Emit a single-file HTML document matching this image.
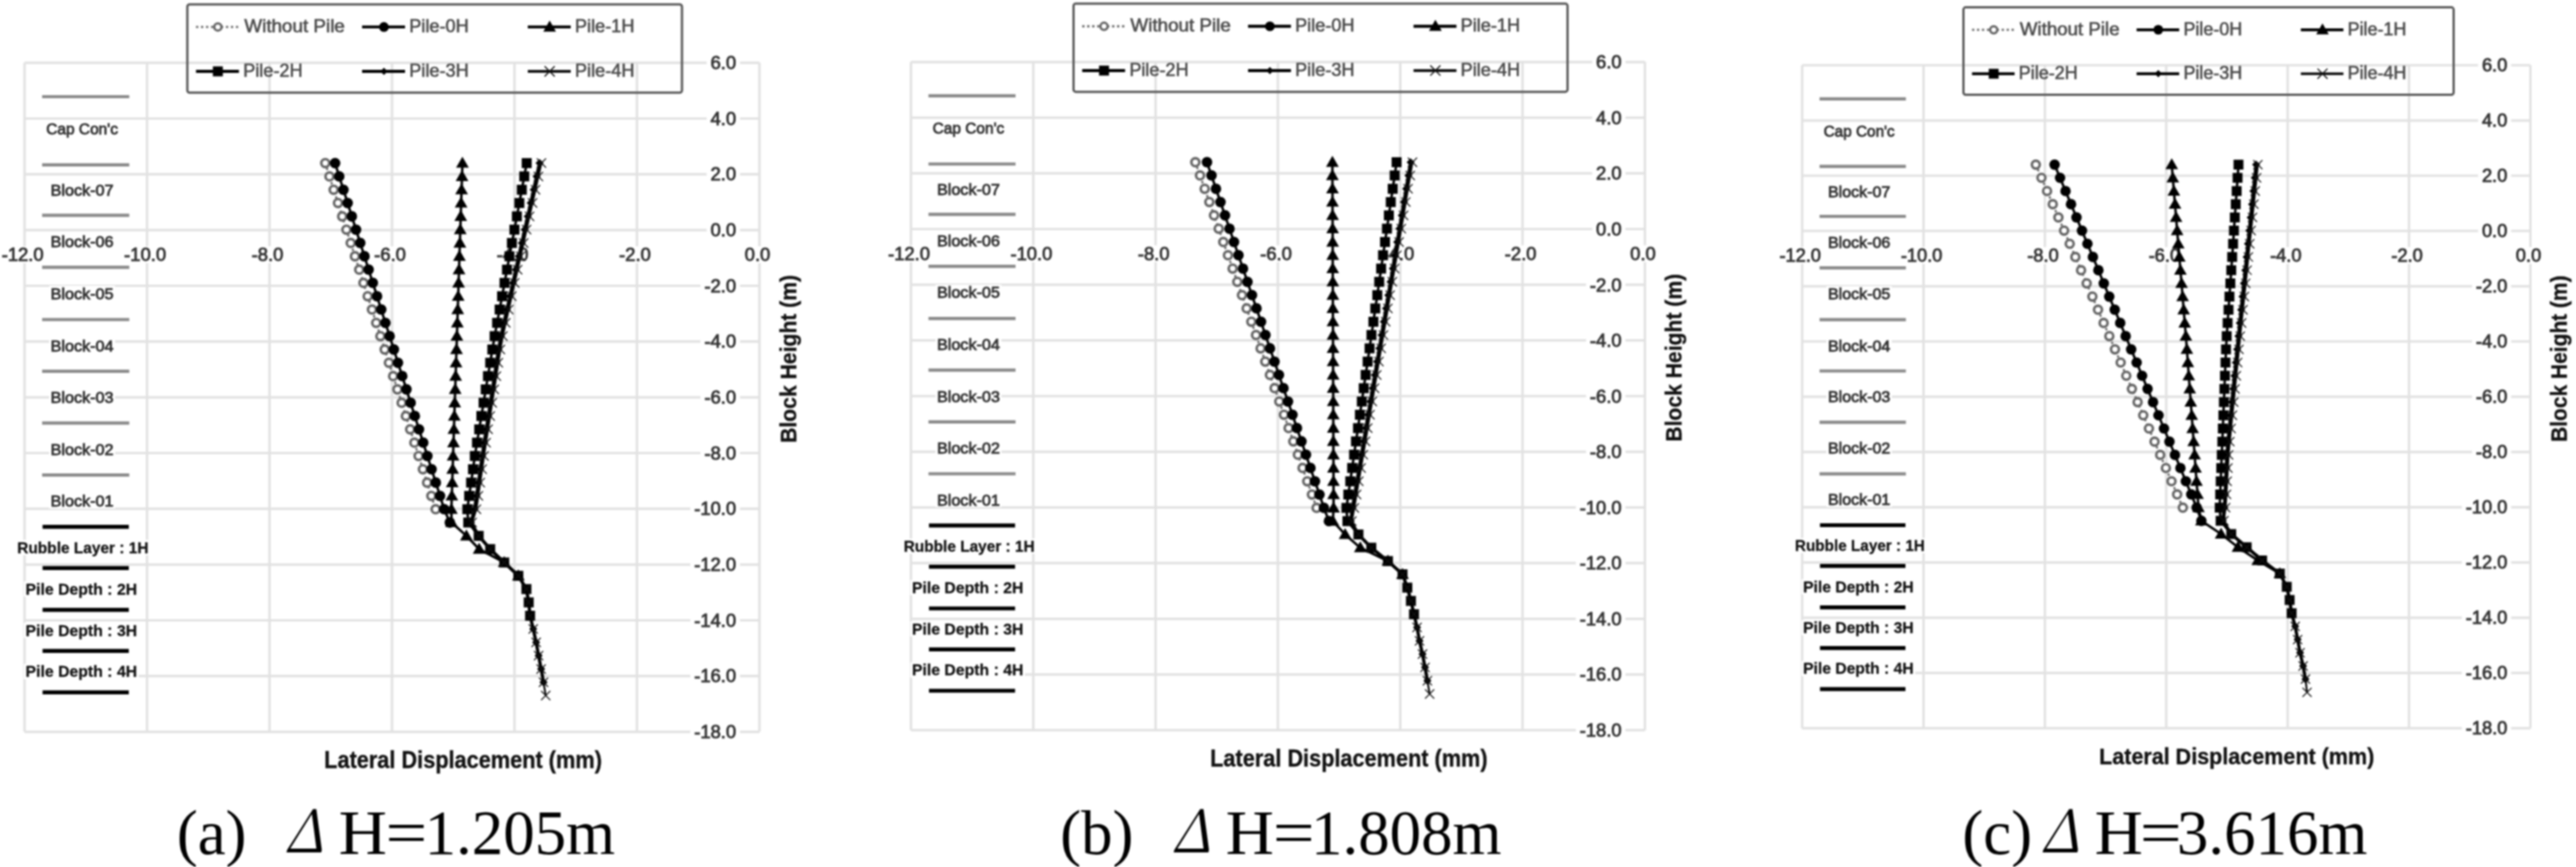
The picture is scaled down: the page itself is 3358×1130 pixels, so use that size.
<!DOCTYPE html><html><head><meta charset="utf-8"><title>Lateral displacement charts</title><style>html,body{margin:0;padding:0;background:#fff;}svg{display:block;}</style></head><body>
<svg style="filter:blur(1.2px)" width="3358" height="1130" viewBox="0 0 3358 1130">
<rect width="3358" height="1130" fill="#fff"/>
<g>
<g transform="translate(32.00,81.80) scale(1.0000)">
<path d="M0.0 0V872.0M159.7 0V872.0M319.3 0V872.0M479.0 0V872.0M638.7 0V872.0M798.3 0V872.0M958.0 0V872.0M0 0.0H958.0M0 72.7H958.0M0 145.3H958.0M0 218.0H958.0M0 290.7H958.0M0 363.3H958.0M0 436.0H958.0M0 508.7H958.0M0 581.3H958.0M0 654.0H958.0M0 726.7H958.0M0 799.3H958.0M0 872.0H958.0" stroke="#e2e2e2" stroke-width="3.2" fill="none"/>
<path d="M22.9 44.2H136.5M22.9 133.1H136.5M22.9 198.8H136.5M22.9 266.6H136.5M22.9 334.7H136.5M22.9 402.1H136.5M22.9 469.6H136.5M22.9 537.4H136.5" stroke="#8a8a8a" stroke-width="4.2" fill="none"/>
<path d="M23.5 604.9H135.9M23.5 658.6H135.9M23.5 713.1H135.9M23.5 766.5H135.9M23.5 820.5H135.9" stroke="#000" stroke-width="5.2" fill="none"/>
<rect x="26.2" y="78.7" width="97.5" height="20" fill="#fff"/>
<text x="75" y="93.7" text-anchor="middle" font-size="21" fill="#333" stroke="#333" stroke-width="1.0" textLength="93.5" lengthAdjust="spacingAndGlyphs" font-family="Liberation Sans, Arial, sans-serif">Cap Con&#39;c</text>
<rect x="32.0" y="155.9" width="86.0" height="20" fill="#fff"/>
<text x="75" y="173.4" text-anchor="middle" font-size="21" fill="#333" stroke="#333" stroke-width="1.0" textLength="82.0" lengthAdjust="spacingAndGlyphs" font-family="Liberation Sans, Arial, sans-serif">Block-07</text>
<rect x="32.0" y="222.7" width="86.0" height="20" fill="#fff"/>
<text x="75" y="240.2" text-anchor="middle" font-size="21" fill="#333" stroke="#333" stroke-width="1.0" textLength="82.0" lengthAdjust="spacingAndGlyphs" font-family="Liberation Sans, Arial, sans-serif">Block-06</text>
<rect x="32.0" y="290.6" width="86.0" height="20" fill="#fff"/>
<text x="75" y="308.1" text-anchor="middle" font-size="21" fill="#333" stroke="#333" stroke-width="1.0" textLength="82.0" lengthAdjust="spacingAndGlyphs" font-family="Liberation Sans, Arial, sans-serif">Block-05</text>
<rect x="32.0" y="358.4" width="86.0" height="20" fill="#fff"/>
<text x="75" y="375.9" text-anchor="middle" font-size="21" fill="#333" stroke="#333" stroke-width="1.0" textLength="82.0" lengthAdjust="spacingAndGlyphs" font-family="Liberation Sans, Arial, sans-serif">Block-04</text>
<rect x="32.0" y="425.9" width="86.0" height="20" fill="#fff"/>
<text x="75" y="443.4" text-anchor="middle" font-size="21" fill="#333" stroke="#333" stroke-width="1.0" textLength="82.0" lengthAdjust="spacingAndGlyphs" font-family="Liberation Sans, Arial, sans-serif">Block-03</text>
<rect x="32.0" y="493.5" width="86.0" height="20" fill="#fff"/>
<text x="75" y="511.0" text-anchor="middle" font-size="21" fill="#333" stroke="#333" stroke-width="1.0" textLength="82.0" lengthAdjust="spacingAndGlyphs" font-family="Liberation Sans, Arial, sans-serif">Block-02</text>
<rect x="32.0" y="561.1" width="86.0" height="20" fill="#fff"/>
<text x="75" y="578.6" text-anchor="middle" font-size="21" fill="#333" stroke="#333" stroke-width="1.0" textLength="82.0" lengthAdjust="spacingAndGlyphs" font-family="Liberation Sans, Arial, sans-serif">Block-01</text>
<rect x="-11.5" y="621.8" width="175.0" height="20" fill="#fff"/>
<text x="76.0" y="639.0" text-anchor="middle" font-size="20" font-weight="bold" fill="#111" stroke="#111" stroke-width="0.3" textLength="171.0" lengthAdjust="spacingAndGlyphs" font-family="Liberation Sans, Arial, sans-serif">Rubble Layer : 1H</text>
<rect x="-0.8" y="675.9" width="149.5" height="20" fill="#fff"/>
<text x="74.0" y="693.1" text-anchor="middle" font-size="20" font-weight="bold" fill="#111" stroke="#111" stroke-width="0.3" textLength="145.5" lengthAdjust="spacingAndGlyphs" font-family="Liberation Sans, Arial, sans-serif">Pile Depth : 2H</text>
<rect x="-0.8" y="729.8" width="149.5" height="20" fill="#fff"/>
<text x="74.0" y="747.0" text-anchor="middle" font-size="20" font-weight="bold" fill="#111" stroke="#111" stroke-width="0.3" textLength="145.5" lengthAdjust="spacingAndGlyphs" font-family="Liberation Sans, Arial, sans-serif">Pile Depth : 3H</text>
<rect x="-0.8" y="783.5" width="149.5" height="20" fill="#fff"/>
<text x="74.0" y="800.7" text-anchor="middle" font-size="20" font-weight="bold" fill="#111" stroke="#111" stroke-width="0.3" textLength="145.5" lengthAdjust="spacingAndGlyphs" font-family="Liberation Sans, Arial, sans-serif">Pile Depth : 4H</text>
<rect x="889.2" y="-11.0" width="43.4" height="22" fill="#fff"/>
<text x="927.6" y="8.4" text-anchor="end" font-size="24" fill="#333" stroke="#333" stroke-width="1.0" font-family="Liberation Sans, Arial, sans-serif">6.0</text>
<rect x="889.2" y="61.7" width="43.4" height="22" fill="#fff"/>
<text x="927.6" y="81.1" text-anchor="end" font-size="24" fill="#333" stroke="#333" stroke-width="1.0" font-family="Liberation Sans, Arial, sans-serif">4.0</text>
<rect x="889.2" y="134.3" width="43.4" height="22" fill="#fff"/>
<text x="927.6" y="153.7" text-anchor="end" font-size="24" fill="#333" stroke="#333" stroke-width="1.0" font-family="Liberation Sans, Arial, sans-serif">2.0</text>
<rect x="889.2" y="207.0" width="43.4" height="22" fill="#fff"/>
<text x="927.6" y="226.4" text-anchor="end" font-size="24" fill="#333" stroke="#333" stroke-width="1.0" font-family="Liberation Sans, Arial, sans-serif">0.0</text>
<rect x="881.2" y="279.7" width="51.4" height="22" fill="#fff"/>
<text x="927.6" y="299.1" text-anchor="end" font-size="24" fill="#333" stroke="#333" stroke-width="1.0" font-family="Liberation Sans, Arial, sans-serif">-2.0</text>
<rect x="881.2" y="352.3" width="51.4" height="22" fill="#fff"/>
<text x="927.6" y="371.7" text-anchor="end" font-size="24" fill="#333" stroke="#333" stroke-width="1.0" font-family="Liberation Sans, Arial, sans-serif">-4.0</text>
<rect x="881.2" y="425.0" width="51.4" height="22" fill="#fff"/>
<text x="927.6" y="444.4" text-anchor="end" font-size="24" fill="#333" stroke="#333" stroke-width="1.0" font-family="Liberation Sans, Arial, sans-serif">-6.0</text>
<rect x="881.2" y="497.7" width="51.4" height="22" fill="#fff"/>
<text x="927.6" y="517.1" text-anchor="end" font-size="24" fill="#333" stroke="#333" stroke-width="1.0" font-family="Liberation Sans, Arial, sans-serif">-8.0</text>
<rect x="867.9" y="570.3" width="64.7" height="22" fill="#fff"/>
<text x="927.6" y="589.7" text-anchor="end" font-size="24" fill="#333" stroke="#333" stroke-width="1.0" font-family="Liberation Sans, Arial, sans-serif">-10.0</text>
<rect x="867.9" y="643.0" width="64.7" height="22" fill="#fff"/>
<text x="927.6" y="662.4" text-anchor="end" font-size="24" fill="#333" stroke="#333" stroke-width="1.0" font-family="Liberation Sans, Arial, sans-serif">-12.0</text>
<rect x="867.9" y="715.7" width="64.7" height="22" fill="#fff"/>
<text x="927.6" y="735.1" text-anchor="end" font-size="24" fill="#333" stroke="#333" stroke-width="1.0" font-family="Liberation Sans, Arial, sans-serif">-14.0</text>
<rect x="867.9" y="788.3" width="64.7" height="22" fill="#fff"/>
<text x="927.6" y="807.7" text-anchor="end" font-size="24" fill="#333" stroke="#333" stroke-width="1.0" font-family="Liberation Sans, Arial, sans-serif">-16.0</text>
<rect x="867.9" y="861.0" width="64.7" height="22" fill="#fff"/>
<text x="927.6" y="880.4" text-anchor="end" font-size="24" fill="#333" stroke="#333" stroke-width="1.0" font-family="Liberation Sans, Arial, sans-serif">-18.0</text>
<rect x="-32.9" y="239.2" width="60.7" height="22" fill="#fff"/>
<text x="-2.5" y="258.6" text-anchor="middle" font-size="24" fill="#333" stroke="#333" stroke-width="1.0" font-family="Liberation Sans, Arial, sans-serif">-12.0</text>
<rect x="126.8" y="239.2" width="60.7" height="22" fill="#fff"/>
<text x="157.2" y="258.6" text-anchor="middle" font-size="24" fill="#333" stroke="#333" stroke-width="1.0" font-family="Liberation Sans, Arial, sans-serif">-10.0</text>
<rect x="293.1" y="239.2" width="47.4" height="22" fill="#fff"/>
<text x="316.8" y="258.6" text-anchor="middle" font-size="24" fill="#333" stroke="#333" stroke-width="1.0" font-family="Liberation Sans, Arial, sans-serif">-8.0</text>
<rect x="452.8" y="239.2" width="47.4" height="22" fill="#fff"/>
<text x="476.5" y="258.6" text-anchor="middle" font-size="24" fill="#333" stroke="#333" stroke-width="1.0" font-family="Liberation Sans, Arial, sans-serif">-6.0</text>
<rect x="612.5" y="239.2" width="47.4" height="22" fill="#fff"/>
<text x="636.2" y="258.6" text-anchor="middle" font-size="24" fill="#333" stroke="#333" stroke-width="1.0" font-family="Liberation Sans, Arial, sans-serif">-4.0</text>
<rect x="772.1" y="239.2" width="47.4" height="22" fill="#fff"/>
<text x="795.8" y="258.6" text-anchor="middle" font-size="24" fill="#333" stroke="#333" stroke-width="1.0" font-family="Liberation Sans, Arial, sans-serif">-2.0</text>
<rect x="935.8" y="239.2" width="39.4" height="22" fill="#fff"/>
<text x="955.5" y="258.6" text-anchor="middle" font-size="24" fill="#333" stroke="#333" stroke-width="1.0" font-family="Liberation Sans, Arial, sans-serif">0.0</text>
<text x="390.6" y="919.1" font-size="30.5" font-weight="bold" fill="#111" stroke="#111" stroke-width="0.4" textLength="362" lengthAdjust="spacingAndGlyphs" font-family="Liberation Sans, Arial, sans-serif">Lateral Displacement (mm)</text>
<text transform="translate(1006,495.5) rotate(-90)" x="0" y="0" font-size="29.5" font-weight="bold" fill="#111" stroke="#111" stroke-width="0.4" textLength="219" lengthAdjust="spacingAndGlyphs" font-family="Liberation Sans, Arial, sans-serif">Block Height (m)</text>
<polyline points="392.0,130.8 397.5,148.1 403.0,165.5 408.6,182.8 414.1,200.2 419.6,217.5 425.2,234.9 430.7,252.2 436.3,269.6 441.8,286.9 447.3,304.3 452.9,321.6 458.4,339.0 463.9,356.3 469.5,373.7 475.0,391.0 480.5,408.4 486.1,425.7 491.6,443.1 497.1,460.4 502.7,477.8 508.2,495.1 513.7,512.5 519.3,529.8 524.8,547.2 530.3,564.5 535.9,581.9" fill="none" stroke="#6a6a6a" stroke-width="2.8" stroke-dasharray="3,3.5"/>
<circle cx="392.0" cy="130.8" r="5.2" fill="#fff" stroke="#666" stroke-width="3.4"/><circle cx="397.5" cy="148.1" r="5.2" fill="#fff" stroke="#666" stroke-width="3.4"/><circle cx="403.0" cy="165.5" r="5.2" fill="#fff" stroke="#666" stroke-width="3.4"/><circle cx="408.6" cy="182.8" r="5.2" fill="#fff" stroke="#666" stroke-width="3.4"/><circle cx="414.1" cy="200.2" r="5.2" fill="#fff" stroke="#666" stroke-width="3.4"/><circle cx="419.6" cy="217.5" r="5.2" fill="#fff" stroke="#666" stroke-width="3.4"/><circle cx="425.2" cy="234.9" r="5.2" fill="#fff" stroke="#666" stroke-width="3.4"/><circle cx="430.7" cy="252.2" r="5.2" fill="#fff" stroke="#666" stroke-width="3.4"/><circle cx="436.3" cy="269.6" r="5.2" fill="#fff" stroke="#666" stroke-width="3.4"/><circle cx="441.8" cy="286.9" r="5.2" fill="#fff" stroke="#666" stroke-width="3.4"/><circle cx="447.3" cy="304.3" r="5.2" fill="#fff" stroke="#666" stroke-width="3.4"/><circle cx="452.9" cy="321.6" r="5.2" fill="#fff" stroke="#666" stroke-width="3.4"/><circle cx="458.4" cy="339.0" r="5.2" fill="#fff" stroke="#666" stroke-width="3.4"/><circle cx="463.9" cy="356.3" r="5.2" fill="#fff" stroke="#666" stroke-width="3.4"/><circle cx="469.5" cy="373.7" r="5.2" fill="#fff" stroke="#666" stroke-width="3.4"/><circle cx="475.0" cy="391.0" r="5.2" fill="#fff" stroke="#666" stroke-width="3.4"/><circle cx="480.5" cy="408.4" r="5.2" fill="#fff" stroke="#666" stroke-width="3.4"/><circle cx="486.1" cy="425.7" r="5.2" fill="#fff" stroke="#666" stroke-width="3.4"/><circle cx="491.6" cy="443.1" r="5.2" fill="#fff" stroke="#666" stroke-width="3.4"/><circle cx="497.1" cy="460.4" r="5.2" fill="#fff" stroke="#666" stroke-width="3.4"/><circle cx="502.7" cy="477.8" r="5.2" fill="#fff" stroke="#666" stroke-width="3.4"/><circle cx="508.2" cy="495.1" r="5.2" fill="#fff" stroke="#666" stroke-width="3.4"/><circle cx="513.7" cy="512.5" r="5.2" fill="#fff" stroke="#666" stroke-width="3.4"/><circle cx="519.3" cy="529.8" r="5.2" fill="#fff" stroke="#666" stroke-width="3.4"/><circle cx="524.8" cy="547.2" r="5.2" fill="#fff" stroke="#666" stroke-width="3.4"/><circle cx="530.3" cy="564.5" r="5.2" fill="#fff" stroke="#666" stroke-width="3.4"/><circle cx="535.9" cy="581.9" r="5.2" fill="#fff" stroke="#666" stroke-width="3.4"/>
<polyline points="404.8,130.8 410.2,148.1 415.7,165.5 421.2,182.8 426.6,200.2 432.1,217.5 437.6,234.9 443.1,252.2 448.5,269.6 454.0,286.9 459.5,304.3 464.9,321.6 470.4,339.0 475.9,356.3 481.4,373.7 486.8,391.0 492.3,408.4 497.8,425.7 503.3,443.1 508.7,460.4 514.2,477.8 519.7,495.1 525.1,512.5 530.6,529.8 536.1,547.2 541.6,564.5 547.0,581.9 554.4,599.2" fill="none" stroke="#000" stroke-width="3.2"/>
<circle cx="404.8" cy="130.8" r="6.9" fill="#000"/><circle cx="410.2" cy="148.1" r="6.9" fill="#000"/><circle cx="415.7" cy="165.5" r="6.9" fill="#000"/><circle cx="421.2" cy="182.8" r="6.9" fill="#000"/><circle cx="426.6" cy="200.2" r="6.9" fill="#000"/><circle cx="432.1" cy="217.5" r="6.9" fill="#000"/><circle cx="437.6" cy="234.9" r="6.9" fill="#000"/><circle cx="443.1" cy="252.2" r="6.9" fill="#000"/><circle cx="448.5" cy="269.6" r="6.9" fill="#000"/><circle cx="454.0" cy="286.9" r="6.9" fill="#000"/><circle cx="459.5" cy="304.3" r="6.9" fill="#000"/><circle cx="464.9" cy="321.6" r="6.9" fill="#000"/><circle cx="470.4" cy="339.0" r="6.9" fill="#000"/><circle cx="475.9" cy="356.3" r="6.9" fill="#000"/><circle cx="481.4" cy="373.7" r="6.9" fill="#000"/><circle cx="486.8" cy="391.0" r="6.9" fill="#000"/><circle cx="492.3" cy="408.4" r="6.9" fill="#000"/><circle cx="497.8" cy="425.7" r="6.9" fill="#000"/><circle cx="503.3" cy="443.1" r="6.9" fill="#000"/><circle cx="508.7" cy="460.4" r="6.9" fill="#000"/><circle cx="514.2" cy="477.8" r="6.9" fill="#000"/><circle cx="519.7" cy="495.1" r="6.9" fill="#000"/><circle cx="525.1" cy="512.5" r="6.9" fill="#000"/><circle cx="530.6" cy="529.8" r="6.9" fill="#000"/><circle cx="536.1" cy="547.2" r="6.9" fill="#000"/><circle cx="541.6" cy="564.5" r="6.9" fill="#000"/><circle cx="547.0" cy="581.9" r="6.9" fill="#000"/><circle cx="554.4" cy="599.2" r="6.9" fill="#000"/>
<polyline points="570.8,130.8 570.3,148.1 569.7,165.5 569.1,182.8 568.6,200.2 568.0,217.5 567.5,234.9 566.9,252.2 566.4,269.6 565.8,286.9 565.3,304.3 564.7,321.6 564.2,339.0 563.6,356.3 563.1,373.7 562.5,391.0 562.0,408.4 561.4,425.7 560.8,443.1 560.3,460.4 559.7,477.8 559.2,495.1 558.6,512.5 558.1,529.8 557.5,547.2 557.0,564.5 556.4,581.9 556.6,599.2 576.0,616.6 592.6,633.9 625.3,651.3 643.7,668.6" fill="none" stroke="#000" stroke-width="3.2"/>
<path d="M570.8 122.4l8.3 14.4h-16.6z" fill="#000"/><path d="M570.3 139.7l8.3 14.4h-16.6z" fill="#000"/><path d="M569.7 157.1l8.3 14.4h-16.6z" fill="#000"/><path d="M569.1 174.4l8.3 14.4h-16.6z" fill="#000"/><path d="M568.6 191.8l8.3 14.4h-16.6z" fill="#000"/><path d="M568.0 209.1l8.3 14.4h-16.6z" fill="#000"/><path d="M567.5 226.5l8.3 14.4h-16.6z" fill="#000"/><path d="M566.9 243.8l8.3 14.4h-16.6z" fill="#000"/><path d="M566.4 261.2l8.3 14.4h-16.6z" fill="#000"/><path d="M565.8 278.5l8.3 14.4h-16.6z" fill="#000"/><path d="M565.3 295.9l8.3 14.4h-16.6z" fill="#000"/><path d="M564.7 313.2l8.3 14.4h-16.6z" fill="#000"/><path d="M564.2 330.6l8.3 14.4h-16.6z" fill="#000"/><path d="M563.6 347.9l8.3 14.4h-16.6z" fill="#000"/><path d="M563.1 365.3l8.3 14.4h-16.6z" fill="#000"/><path d="M562.5 382.6l8.3 14.4h-16.6z" fill="#000"/><path d="M562.0 400.0l8.3 14.4h-16.6z" fill="#000"/><path d="M561.4 417.3l8.3 14.4h-16.6z" fill="#000"/><path d="M560.8 434.7l8.3 14.4h-16.6z" fill="#000"/><path d="M560.3 452.0l8.3 14.4h-16.6z" fill="#000"/><path d="M559.7 469.4l8.3 14.4h-16.6z" fill="#000"/><path d="M559.2 486.7l8.3 14.4h-16.6z" fill="#000"/><path d="M558.6 504.1l8.3 14.4h-16.6z" fill="#000"/><path d="M558.1 521.4l8.3 14.4h-16.6z" fill="#000"/><path d="M557.5 538.8l8.3 14.4h-16.6z" fill="#000"/><path d="M557.0 556.1l8.3 14.4h-16.6z" fill="#000"/><path d="M556.4 573.5l8.3 14.4h-16.6z" fill="#000"/><path d="M556.6 590.8l8.3 14.4h-16.6z" fill="#000"/><path d="M576.0 608.2l8.3 14.4h-16.6z" fill="#000"/><path d="M592.6 625.5l8.3 14.4h-16.6z" fill="#000"/><path d="M625.3 642.9l8.3 14.4h-16.6z" fill="#000"/><path d="M643.7 660.2l8.3 14.4h-16.6z" fill="#000"/>
<polyline points="654.6,130.8 651.4,148.1 648.2,165.5 645.0,182.8 641.8,200.2 638.6,217.5 635.3,234.9 632.1,252.2 628.9,269.6 625.7,286.9 622.5,304.3 619.3,321.6 616.0,339.0 612.8,356.3 609.8,373.7 607.0,391.0 604.1,408.4 601.2,425.7 598.4,443.1 595.5,460.4 592.7,477.8 589.8,495.1 587.0,512.5 584.6,529.8 582.1,547.2 579.6,564.5 577.2,581.9 578.4,599.2 592.0,616.6 607.0,633.9 625.3,651.3 643.7,668.6 654.2,686.0 657.2,703.3 659.0,720.7" fill="none" stroke="#000" stroke-width="3.2"/>
<rect x="648.1" y="124.3" width="13" height="13" fill="#000"/><rect x="644.9" y="141.6" width="13" height="13" fill="#000"/><rect x="641.7" y="159.0" width="13" height="13" fill="#000"/><rect x="638.5" y="176.3" width="13" height="13" fill="#000"/><rect x="635.3" y="193.7" width="13" height="13" fill="#000"/><rect x="632.1" y="211.0" width="13" height="13" fill="#000"/><rect x="628.8" y="228.4" width="13" height="13" fill="#000"/><rect x="625.6" y="245.7" width="13" height="13" fill="#000"/><rect x="622.4" y="263.1" width="13" height="13" fill="#000"/><rect x="619.2" y="280.4" width="13" height="13" fill="#000"/><rect x="616.0" y="297.8" width="13" height="13" fill="#000"/><rect x="612.8" y="315.1" width="13" height="13" fill="#000"/><rect x="609.5" y="332.5" width="13" height="13" fill="#000"/><rect x="606.3" y="349.8" width="13" height="13" fill="#000"/><rect x="603.3" y="367.2" width="13" height="13" fill="#000"/><rect x="600.5" y="384.5" width="13" height="13" fill="#000"/><rect x="597.6" y="401.9" width="13" height="13" fill="#000"/><rect x="594.7" y="419.2" width="13" height="13" fill="#000"/><rect x="591.9" y="436.6" width="13" height="13" fill="#000"/><rect x="589.0" y="453.9" width="13" height="13" fill="#000"/><rect x="586.2" y="471.3" width="13" height="13" fill="#000"/><rect x="583.3" y="488.6" width="13" height="13" fill="#000"/><rect x="580.5" y="506.0" width="13" height="13" fill="#000"/><rect x="578.1" y="523.3" width="13" height="13" fill="#000"/><rect x="575.6" y="540.7" width="13" height="13" fill="#000"/><rect x="573.1" y="558.0" width="13" height="13" fill="#000"/><rect x="570.7" y="575.4" width="13" height="13" fill="#000"/><rect x="571.9" y="592.7" width="13" height="13" fill="#000"/><rect x="585.5" y="610.1" width="13" height="13" fill="#000"/><rect x="600.5" y="627.4" width="13" height="13" fill="#000"/><rect x="618.8" y="644.8" width="13" height="13" fill="#000"/><rect x="637.2" y="662.1" width="13" height="13" fill="#000"/><rect x="647.7" y="679.5" width="13" height="13" fill="#000"/><rect x="650.7" y="696.8" width="13" height="13" fill="#000"/><rect x="652.5" y="714.2" width="13" height="13" fill="#000"/>
<polyline points="671.4,130.8 667.5,148.1 663.7,165.5 659.8,182.8 655.9,200.2 652.0,217.5 648.2,234.9 644.3,252.2 640.4,269.6 636.6,286.9 632.7,304.3 628.8,321.6 624.9,339.0 621.1,356.3 617.9,373.7 615.2,391.0 612.6,408.4 609.9,425.7 607.2,443.1 604.6,460.4 601.9,477.8 599.2,495.1 596.6,512.5 594.1,529.8 591.7,547.2 589.2,564.5 586.6,581.9 582.0,599.2 592.0,616.6 607.0,633.9 625.3,651.3 643.7,668.6 654.2,686.0 657.2,703.3 659.0,720.7 663.1,738.0 666.9,755.4 670.1,772.7 673.4,790.1 676.5,807.4" fill="none" stroke="#000" stroke-width="4.2"/>
<path d="M671.4 125.5l5.3 5.3l-5.3 5.3l-5.3-5.3z" fill="#000"/><path d="M667.5 142.8l5.3 5.3l-5.3 5.3l-5.3-5.3z" fill="#000"/><path d="M663.7 160.2l5.3 5.3l-5.3 5.3l-5.3-5.3z" fill="#000"/><path d="M659.8 177.5l5.3 5.3l-5.3 5.3l-5.3-5.3z" fill="#000"/><path d="M655.9 194.9l5.3 5.3l-5.3 5.3l-5.3-5.3z" fill="#000"/><path d="M652.0 212.2l5.3 5.3l-5.3 5.3l-5.3-5.3z" fill="#000"/><path d="M648.2 229.6l5.3 5.3l-5.3 5.3l-5.3-5.3z" fill="#000"/><path d="M644.3 246.9l5.3 5.3l-5.3 5.3l-5.3-5.3z" fill="#000"/><path d="M640.4 264.3l5.3 5.3l-5.3 5.3l-5.3-5.3z" fill="#000"/><path d="M636.6 281.6l5.3 5.3l-5.3 5.3l-5.3-5.3z" fill="#000"/><path d="M632.7 299.0l5.3 5.3l-5.3 5.3l-5.3-5.3z" fill="#000"/><path d="M628.8 316.3l5.3 5.3l-5.3 5.3l-5.3-5.3z" fill="#000"/><path d="M624.9 333.7l5.3 5.3l-5.3 5.3l-5.3-5.3z" fill="#000"/><path d="M621.1 351.0l5.3 5.3l-5.3 5.3l-5.3-5.3z" fill="#000"/><path d="M617.9 368.4l5.3 5.3l-5.3 5.3l-5.3-5.3z" fill="#000"/><path d="M615.2 385.7l5.3 5.3l-5.3 5.3l-5.3-5.3z" fill="#000"/><path d="M612.6 403.1l5.3 5.3l-5.3 5.3l-5.3-5.3z" fill="#000"/><path d="M609.9 420.4l5.3 5.3l-5.3 5.3l-5.3-5.3z" fill="#000"/><path d="M607.2 437.8l5.3 5.3l-5.3 5.3l-5.3-5.3z" fill="#000"/><path d="M604.6 455.1l5.3 5.3l-5.3 5.3l-5.3-5.3z" fill="#000"/><path d="M601.9 472.5l5.3 5.3l-5.3 5.3l-5.3-5.3z" fill="#000"/><path d="M599.2 489.8l5.3 5.3l-5.3 5.3l-5.3-5.3z" fill="#000"/><path d="M596.6 507.2l5.3 5.3l-5.3 5.3l-5.3-5.3z" fill="#000"/><path d="M594.1 524.5l5.3 5.3l-5.3 5.3l-5.3-5.3z" fill="#000"/><path d="M591.7 541.9l5.3 5.3l-5.3 5.3l-5.3-5.3z" fill="#000"/><path d="M589.2 559.2l5.3 5.3l-5.3 5.3l-5.3-5.3z" fill="#000"/><path d="M586.6 576.6l5.3 5.3l-5.3 5.3l-5.3-5.3z" fill="#000"/><path d="M582.0 593.9l5.3 5.3l-5.3 5.3l-5.3-5.3z" fill="#000"/><path d="M592.0 611.3l5.3 5.3l-5.3 5.3l-5.3-5.3z" fill="#000"/><path d="M607.0 628.6l5.3 5.3l-5.3 5.3l-5.3-5.3z" fill="#000"/><path d="M625.3 646.0l5.3 5.3l-5.3 5.3l-5.3-5.3z" fill="#000"/><path d="M643.7 663.3l5.3 5.3l-5.3 5.3l-5.3-5.3z" fill="#000"/><path d="M654.2 680.7l5.3 5.3l-5.3 5.3l-5.3-5.3z" fill="#000"/><path d="M657.2 698.0l5.3 5.3l-5.3 5.3l-5.3-5.3z" fill="#000"/><path d="M659.0 715.4l5.3 5.3l-5.3 5.3l-5.3-5.3z" fill="#000"/><path d="M663.1 732.7l5.3 5.3l-5.3 5.3l-5.3-5.3z" fill="#000"/><path d="M666.9 750.1l5.3 5.3l-5.3 5.3l-5.3-5.3z" fill="#000"/><path d="M670.1 767.4l5.3 5.3l-5.3 5.3l-5.3-5.3z" fill="#000"/><path d="M673.4 784.8l5.3 5.3l-5.3 5.3l-5.3-5.3z" fill="#000"/><path d="M676.5 802.1l5.3 5.3l-5.3 5.3l-5.3-5.3z" fill="#000"/>
<polyline points="673.8,130.8 669.9,148.1 666.1,165.5 662.2,182.8 658.3,200.2 654.4,217.5 650.6,234.9 646.7,252.2 642.8,269.6 638.9,286.9 635.1,304.3 631.2,321.6 627.3,339.0 623.5,356.3 620.3,373.7 617.6,391.0 615.0,408.4 612.3,425.7 609.6,443.1 607.0,460.4 604.3,477.8 601.6,495.1 599.0,512.5 596.5,529.8 594.0,547.2 591.6,564.5 589.0,581.9 583.5,599.2 592.0,616.6 607.0,633.9 625.3,651.3 643.7,668.6 654.2,686.0 657.2,703.3 659.0,720.7 663.1,738.0 666.9,755.4 670.1,772.7 673.4,790.1 676.5,807.4 679.4,824.8" fill="none" stroke="#000" stroke-width="2.4"/>
<path d="M667.8 124.8l12 12m0-12l-12 12" stroke="#111" stroke-width="1.4" fill="none"/><path d="M663.9 142.1l12 12m0-12l-12 12" stroke="#111" stroke-width="1.4" fill="none"/><path d="M660.1 159.5l12 12m0-12l-12 12" stroke="#111" stroke-width="1.4" fill="none"/><path d="M656.2 176.8l12 12m0-12l-12 12" stroke="#111" stroke-width="1.4" fill="none"/><path d="M652.3 194.2l12 12m0-12l-12 12" stroke="#111" stroke-width="1.4" fill="none"/><path d="M648.4 211.5l12 12m0-12l-12 12" stroke="#111" stroke-width="1.4" fill="none"/><path d="M644.6 228.9l12 12m0-12l-12 12" stroke="#111" stroke-width="1.4" fill="none"/><path d="M640.7 246.2l12 12m0-12l-12 12" stroke="#111" stroke-width="1.4" fill="none"/><path d="M636.8 263.6l12 12m0-12l-12 12" stroke="#111" stroke-width="1.4" fill="none"/><path d="M632.9 280.9l12 12m0-12l-12 12" stroke="#111" stroke-width="1.4" fill="none"/><path d="M629.1 298.3l12 12m0-12l-12 12" stroke="#111" stroke-width="1.4" fill="none"/><path d="M625.2 315.6l12 12m0-12l-12 12" stroke="#111" stroke-width="1.4" fill="none"/><path d="M621.3 333.0l12 12m0-12l-12 12" stroke="#111" stroke-width="1.4" fill="none"/><path d="M617.5 350.3l12 12m0-12l-12 12" stroke="#111" stroke-width="1.4" fill="none"/><path d="M614.3 367.7l12 12m0-12l-12 12" stroke="#111" stroke-width="1.4" fill="none"/><path d="M611.6 385.0l12 12m0-12l-12 12" stroke="#111" stroke-width="1.4" fill="none"/><path d="M609.0 402.4l12 12m0-12l-12 12" stroke="#111" stroke-width="1.4" fill="none"/><path d="M606.3 419.7l12 12m0-12l-12 12" stroke="#111" stroke-width="1.4" fill="none"/><path d="M603.6 437.1l12 12m0-12l-12 12" stroke="#111" stroke-width="1.4" fill="none"/><path d="M601.0 454.4l12 12m0-12l-12 12" stroke="#111" stroke-width="1.4" fill="none"/><path d="M598.3 471.8l12 12m0-12l-12 12" stroke="#111" stroke-width="1.4" fill="none"/><path d="M595.6 489.1l12 12m0-12l-12 12" stroke="#111" stroke-width="1.4" fill="none"/><path d="M593.0 506.5l12 12m0-12l-12 12" stroke="#111" stroke-width="1.4" fill="none"/><path d="M590.5 523.8l12 12m0-12l-12 12" stroke="#111" stroke-width="1.4" fill="none"/><path d="M588.0 541.2l12 12m0-12l-12 12" stroke="#111" stroke-width="1.4" fill="none"/><path d="M585.6 558.5l12 12m0-12l-12 12" stroke="#111" stroke-width="1.4" fill="none"/><path d="M583.0 575.9l12 12m0-12l-12 12" stroke="#111" stroke-width="1.4" fill="none"/><path d="M577.5 593.2l12 12m0-12l-12 12" stroke="#111" stroke-width="1.4" fill="none"/><path d="M586.0 610.6l12 12m0-12l-12 12" stroke="#111" stroke-width="1.4" fill="none"/><path d="M601.0 627.9l12 12m0-12l-12 12" stroke="#111" stroke-width="1.4" fill="none"/><path d="M619.3 645.3l12 12m0-12l-12 12" stroke="#111" stroke-width="1.4" fill="none"/><path d="M637.7 662.6l12 12m0-12l-12 12" stroke="#111" stroke-width="1.4" fill="none"/><path d="M648.2 680.0l12 12m0-12l-12 12" stroke="#111" stroke-width="1.4" fill="none"/><path d="M651.2 697.3l12 12m0-12l-12 12" stroke="#111" stroke-width="1.4" fill="none"/><path d="M653.0 714.7l12 12m0-12l-12 12" stroke="#111" stroke-width="1.4" fill="none"/><path d="M657.1 732.0l12 12m0-12l-12 12" stroke="#111" stroke-width="1.4" fill="none"/><path d="M660.9 749.4l12 12m0-12l-12 12" stroke="#111" stroke-width="1.4" fill="none"/><path d="M664.1 766.7l12 12m0-12l-12 12" stroke="#111" stroke-width="1.4" fill="none"/><path d="M667.4 784.1l12 12m0-12l-12 12" stroke="#111" stroke-width="1.4" fill="none"/><path d="M670.5 801.4l12 12m0-12l-12 12" stroke="#111" stroke-width="1.4" fill="none"/><path d="M673.4 818.8l12 12m0-12l-12 12" stroke="#111" stroke-width="1.4" fill="none"/>
<rect x="212.2" y="-76.1" width="644.8" height="115" rx="3" fill="none" stroke="#5a5a5a" stroke-width="3"/>
<path d="M223.5 -46.6h56" fill="none" stroke="#6a6a6a" stroke-width="2.8" stroke-dasharray="3,3.5"/>
<g transform="translate(252.0,-46.6) scale(0.90)"><circle cx="0.0" cy="0.0" r="5.2" fill="#fff" stroke="#666" stroke-width="3.4"/></g>
<text x="286.5" y="-39.4" font-size="24" fill="#4a4a4a" stroke="#4a4a4a" stroke-width="0.7" textLength="131" lengthAdjust="spacingAndGlyphs" font-family="Liberation Sans, Arial, sans-serif">Without Pile</text>
<path d="M440.0 -46.6h56" fill="none" stroke="#000" stroke-width="3.8"/>
<g transform="translate(468.5,-46.6) scale(0.92)"><circle cx="0.0" cy="0.0" r="6.9" fill="#000"/></g>
<text x="501.5" y="-39.4" font-size="24" fill="#4a4a4a" stroke="#4a4a4a" stroke-width="0.7" textLength="77.5" lengthAdjust="spacingAndGlyphs" font-family="Liberation Sans, Arial, sans-serif">Pile-0H</text>
<path d="M656.0 -46.6h56" fill="none" stroke="#000" stroke-width="3.8"/>
<g transform="translate(684.5,-46.6) scale(1.00)"><path d="M0.0 -8.4l8.3 14.4h-16.6z" fill="#000"/></g>
<text x="717.5" y="-39.4" font-size="24" fill="#4a4a4a" stroke="#4a4a4a" stroke-width="0.7" textLength="77.5" lengthAdjust="spacingAndGlyphs" font-family="Liberation Sans, Arial, sans-serif">Pile-1H</text>
<path d="M223.5 11.2h56" fill="none" stroke="#000" stroke-width="3.8"/>
<g transform="translate(252.0,11.2) scale(1.00)"><rect x="-6.5" y="-6.5" width="13" height="13" fill="#000"/></g>
<text x="285.0" y="18.4" font-size="24" fill="#4a4a4a" stroke="#4a4a4a" stroke-width="0.7" textLength="77.5" lengthAdjust="spacingAndGlyphs" font-family="Liberation Sans, Arial, sans-serif">Pile-2H</text>
<path d="M440.0 11.2h56" fill="none" stroke="#000" stroke-width="3.8"/>
<g transform="translate(468.5,11.2) scale(0.90)"><path d="M0.0 -5.3l5.3 5.3l-5.3 5.3l-5.3-5.3z" fill="#000"/></g>
<text x="501.5" y="18.4" font-size="24" fill="#4a4a4a" stroke="#4a4a4a" stroke-width="0.7" textLength="77.5" lengthAdjust="spacingAndGlyphs" font-family="Liberation Sans, Arial, sans-serif">Pile-3H</text>
<path d="M656.0 11.2h56" fill="none" stroke="#000" stroke-width="3.4"/>
<g transform="translate(684.5,11.2) scale(1.10)"><path d="M-6.0 -6.0l12 12m0-12l-12 12" stroke="#111" stroke-width="1.4" fill="none"/></g>
<text x="717.5" y="18.4" font-size="24" fill="#4a4a4a" stroke="#4a4a4a" stroke-width="0.7" textLength="77.5" lengthAdjust="spacingAndGlyphs" font-family="Liberation Sans, Arial, sans-serif">Pile-4H</text>
</g>
<g transform="translate(1187.50,80.80) scale(0.9987)">
<path d="M0.0 0V872.0M159.7 0V872.0M319.3 0V872.0M479.0 0V872.0M638.7 0V872.0M798.3 0V872.0M958.0 0V872.0M0 0.0H958.0M0 72.7H958.0M0 145.3H958.0M0 218.0H958.0M0 290.7H958.0M0 363.3H958.0M0 436.0H958.0M0 508.7H958.0M0 581.3H958.0M0 654.0H958.0M0 726.7H958.0M0 799.3H958.0M0 872.0H958.0" stroke="#e2e2e2" stroke-width="3.2" fill="none"/>
<path d="M22.9 44.2H136.5M22.9 133.1H136.5M22.9 198.8H136.5M22.9 266.6H136.5M22.9 334.7H136.5M22.9 402.1H136.5M22.9 469.6H136.5M22.9 537.4H136.5" stroke="#8a8a8a" stroke-width="4.2" fill="none"/>
<path d="M23.5 604.9H135.9M23.5 658.6H135.9M23.5 713.1H135.9M23.5 766.5H135.9M23.5 820.5H135.9" stroke="#000" stroke-width="5.2" fill="none"/>
<rect x="26.2" y="78.7" width="97.5" height="20" fill="#fff"/>
<text x="75" y="93.7" text-anchor="middle" font-size="21" fill="#333" stroke="#333" stroke-width="1.0" textLength="93.5" lengthAdjust="spacingAndGlyphs" font-family="Liberation Sans, Arial, sans-serif">Cap Con&#39;c</text>
<rect x="32.0" y="155.9" width="86.0" height="20" fill="#fff"/>
<text x="75" y="173.4" text-anchor="middle" font-size="21" fill="#333" stroke="#333" stroke-width="1.0" textLength="82.0" lengthAdjust="spacingAndGlyphs" font-family="Liberation Sans, Arial, sans-serif">Block-07</text>
<rect x="32.0" y="222.7" width="86.0" height="20" fill="#fff"/>
<text x="75" y="240.2" text-anchor="middle" font-size="21" fill="#333" stroke="#333" stroke-width="1.0" textLength="82.0" lengthAdjust="spacingAndGlyphs" font-family="Liberation Sans, Arial, sans-serif">Block-06</text>
<rect x="32.0" y="290.6" width="86.0" height="20" fill="#fff"/>
<text x="75" y="308.1" text-anchor="middle" font-size="21" fill="#333" stroke="#333" stroke-width="1.0" textLength="82.0" lengthAdjust="spacingAndGlyphs" font-family="Liberation Sans, Arial, sans-serif">Block-05</text>
<rect x="32.0" y="358.4" width="86.0" height="20" fill="#fff"/>
<text x="75" y="375.9" text-anchor="middle" font-size="21" fill="#333" stroke="#333" stroke-width="1.0" textLength="82.0" lengthAdjust="spacingAndGlyphs" font-family="Liberation Sans, Arial, sans-serif">Block-04</text>
<rect x="32.0" y="425.9" width="86.0" height="20" fill="#fff"/>
<text x="75" y="443.4" text-anchor="middle" font-size="21" fill="#333" stroke="#333" stroke-width="1.0" textLength="82.0" lengthAdjust="spacingAndGlyphs" font-family="Liberation Sans, Arial, sans-serif">Block-03</text>
<rect x="32.0" y="493.5" width="86.0" height="20" fill="#fff"/>
<text x="75" y="511.0" text-anchor="middle" font-size="21" fill="#333" stroke="#333" stroke-width="1.0" textLength="82.0" lengthAdjust="spacingAndGlyphs" font-family="Liberation Sans, Arial, sans-serif">Block-02</text>
<rect x="32.0" y="561.1" width="86.0" height="20" fill="#fff"/>
<text x="75" y="578.6" text-anchor="middle" font-size="21" fill="#333" stroke="#333" stroke-width="1.0" textLength="82.0" lengthAdjust="spacingAndGlyphs" font-family="Liberation Sans, Arial, sans-serif">Block-01</text>
<rect x="-11.5" y="621.8" width="175.0" height="20" fill="#fff"/>
<text x="76.0" y="639.0" text-anchor="middle" font-size="20" font-weight="bold" fill="#111" stroke="#111" stroke-width="0.3" textLength="171.0" lengthAdjust="spacingAndGlyphs" font-family="Liberation Sans, Arial, sans-serif">Rubble Layer : 1H</text>
<rect x="-0.8" y="675.9" width="149.5" height="20" fill="#fff"/>
<text x="74.0" y="693.1" text-anchor="middle" font-size="20" font-weight="bold" fill="#111" stroke="#111" stroke-width="0.3" textLength="145.5" lengthAdjust="spacingAndGlyphs" font-family="Liberation Sans, Arial, sans-serif">Pile Depth : 2H</text>
<rect x="-0.8" y="729.8" width="149.5" height="20" fill="#fff"/>
<text x="74.0" y="747.0" text-anchor="middle" font-size="20" font-weight="bold" fill="#111" stroke="#111" stroke-width="0.3" textLength="145.5" lengthAdjust="spacingAndGlyphs" font-family="Liberation Sans, Arial, sans-serif">Pile Depth : 3H</text>
<rect x="-0.8" y="783.5" width="149.5" height="20" fill="#fff"/>
<text x="74.0" y="800.7" text-anchor="middle" font-size="20" font-weight="bold" fill="#111" stroke="#111" stroke-width="0.3" textLength="145.5" lengthAdjust="spacingAndGlyphs" font-family="Liberation Sans, Arial, sans-serif">Pile Depth : 4H</text>
<rect x="889.2" y="-11.0" width="43.4" height="22" fill="#fff"/>
<text x="927.6" y="8.4" text-anchor="end" font-size="24" fill="#333" stroke="#333" stroke-width="1.0" font-family="Liberation Sans, Arial, sans-serif">6.0</text>
<rect x="889.2" y="61.7" width="43.4" height="22" fill="#fff"/>
<text x="927.6" y="81.1" text-anchor="end" font-size="24" fill="#333" stroke="#333" stroke-width="1.0" font-family="Liberation Sans, Arial, sans-serif">4.0</text>
<rect x="889.2" y="134.3" width="43.4" height="22" fill="#fff"/>
<text x="927.6" y="153.7" text-anchor="end" font-size="24" fill="#333" stroke="#333" stroke-width="1.0" font-family="Liberation Sans, Arial, sans-serif">2.0</text>
<rect x="889.2" y="207.0" width="43.4" height="22" fill="#fff"/>
<text x="927.6" y="226.4" text-anchor="end" font-size="24" fill="#333" stroke="#333" stroke-width="1.0" font-family="Liberation Sans, Arial, sans-serif">0.0</text>
<rect x="881.2" y="279.7" width="51.4" height="22" fill="#fff"/>
<text x="927.6" y="299.1" text-anchor="end" font-size="24" fill="#333" stroke="#333" stroke-width="1.0" font-family="Liberation Sans, Arial, sans-serif">-2.0</text>
<rect x="881.2" y="352.3" width="51.4" height="22" fill="#fff"/>
<text x="927.6" y="371.7" text-anchor="end" font-size="24" fill="#333" stroke="#333" stroke-width="1.0" font-family="Liberation Sans, Arial, sans-serif">-4.0</text>
<rect x="881.2" y="425.0" width="51.4" height="22" fill="#fff"/>
<text x="927.6" y="444.4" text-anchor="end" font-size="24" fill="#333" stroke="#333" stroke-width="1.0" font-family="Liberation Sans, Arial, sans-serif">-6.0</text>
<rect x="881.2" y="497.7" width="51.4" height="22" fill="#fff"/>
<text x="927.6" y="517.1" text-anchor="end" font-size="24" fill="#333" stroke="#333" stroke-width="1.0" font-family="Liberation Sans, Arial, sans-serif">-8.0</text>
<rect x="867.9" y="570.3" width="64.7" height="22" fill="#fff"/>
<text x="927.6" y="589.7" text-anchor="end" font-size="24" fill="#333" stroke="#333" stroke-width="1.0" font-family="Liberation Sans, Arial, sans-serif">-10.0</text>
<rect x="867.9" y="643.0" width="64.7" height="22" fill="#fff"/>
<text x="927.6" y="662.4" text-anchor="end" font-size="24" fill="#333" stroke="#333" stroke-width="1.0" font-family="Liberation Sans, Arial, sans-serif">-12.0</text>
<rect x="867.9" y="715.7" width="64.7" height="22" fill="#fff"/>
<text x="927.6" y="735.1" text-anchor="end" font-size="24" fill="#333" stroke="#333" stroke-width="1.0" font-family="Liberation Sans, Arial, sans-serif">-14.0</text>
<rect x="867.9" y="788.3" width="64.7" height="22" fill="#fff"/>
<text x="927.6" y="807.7" text-anchor="end" font-size="24" fill="#333" stroke="#333" stroke-width="1.0" font-family="Liberation Sans, Arial, sans-serif">-16.0</text>
<rect x="867.9" y="861.0" width="64.7" height="22" fill="#fff"/>
<text x="927.6" y="880.4" text-anchor="end" font-size="24" fill="#333" stroke="#333" stroke-width="1.0" font-family="Liberation Sans, Arial, sans-serif">-18.0</text>
<rect x="-32.9" y="239.2" width="60.7" height="22" fill="#fff"/>
<text x="-2.5" y="258.6" text-anchor="middle" font-size="24" fill="#333" stroke="#333" stroke-width="1.0" font-family="Liberation Sans, Arial, sans-serif">-12.0</text>
<rect x="126.8" y="239.2" width="60.7" height="22" fill="#fff"/>
<text x="157.2" y="258.6" text-anchor="middle" font-size="24" fill="#333" stroke="#333" stroke-width="1.0" font-family="Liberation Sans, Arial, sans-serif">-10.0</text>
<rect x="293.1" y="239.2" width="47.4" height="22" fill="#fff"/>
<text x="316.8" y="258.6" text-anchor="middle" font-size="24" fill="#333" stroke="#333" stroke-width="1.0" font-family="Liberation Sans, Arial, sans-serif">-8.0</text>
<rect x="452.8" y="239.2" width="47.4" height="22" fill="#fff"/>
<text x="476.5" y="258.6" text-anchor="middle" font-size="24" fill="#333" stroke="#333" stroke-width="1.0" font-family="Liberation Sans, Arial, sans-serif">-6.0</text>
<rect x="612.5" y="239.2" width="47.4" height="22" fill="#fff"/>
<text x="636.2" y="258.6" text-anchor="middle" font-size="24" fill="#333" stroke="#333" stroke-width="1.0" font-family="Liberation Sans, Arial, sans-serif">-4.0</text>
<rect x="772.1" y="239.2" width="47.4" height="22" fill="#fff"/>
<text x="795.8" y="258.6" text-anchor="middle" font-size="24" fill="#333" stroke="#333" stroke-width="1.0" font-family="Liberation Sans, Arial, sans-serif">-2.0</text>
<rect x="935.8" y="239.2" width="39.4" height="22" fill="#fff"/>
<text x="955.5" y="258.6" text-anchor="middle" font-size="24" fill="#333" stroke="#333" stroke-width="1.0" font-family="Liberation Sans, Arial, sans-serif">0.0</text>
<text x="390.6" y="919.1" font-size="30.5" font-weight="bold" fill="#111" stroke="#111" stroke-width="0.4" textLength="362" lengthAdjust="spacingAndGlyphs" font-family="Liberation Sans, Arial, sans-serif">Lateral Displacement (mm)</text>
<text transform="translate(1006,495.5) rotate(-90)" x="0" y="0" font-size="29.5" font-weight="bold" fill="#111" stroke="#111" stroke-width="0.4" textLength="219" lengthAdjust="spacingAndGlyphs" font-family="Liberation Sans, Arial, sans-serif">Block Height (m)</text>
<polyline points="371.2,130.8 377.3,148.1 383.4,165.5 389.5,182.8 395.6,200.2 401.7,217.5 407.7,234.9 413.8,252.2 419.9,269.6 426.0,286.9 432.1,304.3 438.2,321.6 444.3,339.0 450.4,356.3 456.4,373.7 462.5,391.0 468.6,408.4 474.7,425.7 480.8,443.1 486.9,460.4 493.0,477.8 499.1,495.1 505.1,512.5 511.2,529.8 517.3,547.2 523.4,564.5 529.5,581.9" fill="none" stroke="#6a6a6a" stroke-width="2.8" stroke-dasharray="3,3.5"/>
<circle cx="371.2" cy="130.8" r="5.2" fill="#fff" stroke="#666" stroke-width="3.4"/><circle cx="377.3" cy="148.1" r="5.2" fill="#fff" stroke="#666" stroke-width="3.4"/><circle cx="383.4" cy="165.5" r="5.2" fill="#fff" stroke="#666" stroke-width="3.4"/><circle cx="389.5" cy="182.8" r="5.2" fill="#fff" stroke="#666" stroke-width="3.4"/><circle cx="395.6" cy="200.2" r="5.2" fill="#fff" stroke="#666" stroke-width="3.4"/><circle cx="401.7" cy="217.5" r="5.2" fill="#fff" stroke="#666" stroke-width="3.4"/><circle cx="407.7" cy="234.9" r="5.2" fill="#fff" stroke="#666" stroke-width="3.4"/><circle cx="413.8" cy="252.2" r="5.2" fill="#fff" stroke="#666" stroke-width="3.4"/><circle cx="419.9" cy="269.6" r="5.2" fill="#fff" stroke="#666" stroke-width="3.4"/><circle cx="426.0" cy="286.9" r="5.2" fill="#fff" stroke="#666" stroke-width="3.4"/><circle cx="432.1" cy="304.3" r="5.2" fill="#fff" stroke="#666" stroke-width="3.4"/><circle cx="438.2" cy="321.6" r="5.2" fill="#fff" stroke="#666" stroke-width="3.4"/><circle cx="444.3" cy="339.0" r="5.2" fill="#fff" stroke="#666" stroke-width="3.4"/><circle cx="450.4" cy="356.3" r="5.2" fill="#fff" stroke="#666" stroke-width="3.4"/><circle cx="456.4" cy="373.7" r="5.2" fill="#fff" stroke="#666" stroke-width="3.4"/><circle cx="462.5" cy="391.0" r="5.2" fill="#fff" stroke="#666" stroke-width="3.4"/><circle cx="468.6" cy="408.4" r="5.2" fill="#fff" stroke="#666" stroke-width="3.4"/><circle cx="474.7" cy="425.7" r="5.2" fill="#fff" stroke="#666" stroke-width="3.4"/><circle cx="480.8" cy="443.1" r="5.2" fill="#fff" stroke="#666" stroke-width="3.4"/><circle cx="486.9" cy="460.4" r="5.2" fill="#fff" stroke="#666" stroke-width="3.4"/><circle cx="493.0" cy="477.8" r="5.2" fill="#fff" stroke="#666" stroke-width="3.4"/><circle cx="499.1" cy="495.1" r="5.2" fill="#fff" stroke="#666" stroke-width="3.4"/><circle cx="505.1" cy="512.5" r="5.2" fill="#fff" stroke="#666" stroke-width="3.4"/><circle cx="511.2" cy="529.8" r="5.2" fill="#fff" stroke="#666" stroke-width="3.4"/><circle cx="517.3" cy="547.2" r="5.2" fill="#fff" stroke="#666" stroke-width="3.4"/><circle cx="523.4" cy="564.5" r="5.2" fill="#fff" stroke="#666" stroke-width="3.4"/><circle cx="529.5" cy="581.9" r="5.2" fill="#fff" stroke="#666" stroke-width="3.4"/>
<polyline points="386.4,130.8 392.3,148.1 398.1,165.5 404.0,182.8 409.9,200.2 415.8,217.5 421.6,234.9 427.5,252.2 433.4,269.6 439.2,286.9 445.1,304.3 451.0,321.6 456.9,339.0 462.7,356.3 468.6,373.7 474.5,391.0 480.3,408.4 486.2,425.7 492.1,443.1 498.0,460.4 503.8,477.8 509.7,495.1 515.6,512.5 521.4,529.8 527.3,547.2 533.2,564.5 539.0,581.9 545.6,599.2" fill="none" stroke="#000" stroke-width="3.2"/>
<circle cx="386.4" cy="130.8" r="6.9" fill="#000"/><circle cx="392.3" cy="148.1" r="6.9" fill="#000"/><circle cx="398.1" cy="165.5" r="6.9" fill="#000"/><circle cx="404.0" cy="182.8" r="6.9" fill="#000"/><circle cx="409.9" cy="200.2" r="6.9" fill="#000"/><circle cx="415.8" cy="217.5" r="6.9" fill="#000"/><circle cx="421.6" cy="234.9" r="6.9" fill="#000"/><circle cx="427.5" cy="252.2" r="6.9" fill="#000"/><circle cx="433.4" cy="269.6" r="6.9" fill="#000"/><circle cx="439.2" cy="286.9" r="6.9" fill="#000"/><circle cx="445.1" cy="304.3" r="6.9" fill="#000"/><circle cx="451.0" cy="321.6" r="6.9" fill="#000"/><circle cx="456.9" cy="339.0" r="6.9" fill="#000"/><circle cx="462.7" cy="356.3" r="6.9" fill="#000"/><circle cx="468.6" cy="373.7" r="6.9" fill="#000"/><circle cx="474.5" cy="391.0" r="6.9" fill="#000"/><circle cx="480.3" cy="408.4" r="6.9" fill="#000"/><circle cx="486.2" cy="425.7" r="6.9" fill="#000"/><circle cx="492.1" cy="443.1" r="6.9" fill="#000"/><circle cx="498.0" cy="460.4" r="6.9" fill="#000"/><circle cx="503.8" cy="477.8" r="6.9" fill="#000"/><circle cx="509.7" cy="495.1" r="6.9" fill="#000"/><circle cx="515.6" cy="512.5" r="6.9" fill="#000"/><circle cx="521.4" cy="529.8" r="6.9" fill="#000"/><circle cx="527.3" cy="547.2" r="6.9" fill="#000"/><circle cx="533.2" cy="564.5" r="6.9" fill="#000"/><circle cx="539.0" cy="581.9" r="6.9" fill="#000"/><circle cx="545.6" cy="599.2" r="6.9" fill="#000"/>
<polyline points="550.1,130.8 550.1,148.1 550.2,165.5 550.2,182.8 550.3,200.2 550.4,217.5 550.4,234.9 550.5,252.2 550.5,269.6 550.6,286.9 550.7,304.3 550.7,321.6 550.8,339.0 550.9,356.3 550.9,373.7 551.0,391.0 551.0,408.4 551.1,425.7 551.2,443.1 551.2,460.4 551.3,477.8 551.3,495.1 551.4,512.5 551.5,529.8 551.5,547.2 551.6,564.5 551.6,581.9 550.7,599.2 566.7,616.6 586.5,633.9 622.6,651.3 641.6,668.6" fill="none" stroke="#000" stroke-width="3.2"/>
<path d="M550.1 122.4l8.3 14.4h-16.6z" fill="#000"/><path d="M550.1 139.7l8.3 14.4h-16.6z" fill="#000"/><path d="M550.2 157.1l8.3 14.4h-16.6z" fill="#000"/><path d="M550.2 174.4l8.3 14.4h-16.6z" fill="#000"/><path d="M550.3 191.8l8.3 14.4h-16.6z" fill="#000"/><path d="M550.4 209.1l8.3 14.4h-16.6z" fill="#000"/><path d="M550.4 226.5l8.3 14.4h-16.6z" fill="#000"/><path d="M550.5 243.8l8.3 14.4h-16.6z" fill="#000"/><path d="M550.5 261.2l8.3 14.4h-16.6z" fill="#000"/><path d="M550.6 278.5l8.3 14.4h-16.6z" fill="#000"/><path d="M550.7 295.9l8.3 14.4h-16.6z" fill="#000"/><path d="M550.7 313.2l8.3 14.4h-16.6z" fill="#000"/><path d="M550.8 330.6l8.3 14.4h-16.6z" fill="#000"/><path d="M550.9 347.9l8.3 14.4h-16.6z" fill="#000"/><path d="M550.9 365.3l8.3 14.4h-16.6z" fill="#000"/><path d="M551.0 382.6l8.3 14.4h-16.6z" fill="#000"/><path d="M551.0 400.0l8.3 14.4h-16.6z" fill="#000"/><path d="M551.1 417.3l8.3 14.4h-16.6z" fill="#000"/><path d="M551.2 434.7l8.3 14.4h-16.6z" fill="#000"/><path d="M551.2 452.0l8.3 14.4h-16.6z" fill="#000"/><path d="M551.3 469.4l8.3 14.4h-16.6z" fill="#000"/><path d="M551.3 486.7l8.3 14.4h-16.6z" fill="#000"/><path d="M551.4 504.1l8.3 14.4h-16.6z" fill="#000"/><path d="M551.5 521.4l8.3 14.4h-16.6z" fill="#000"/><path d="M551.5 538.8l8.3 14.4h-16.6z" fill="#000"/><path d="M551.6 556.1l8.3 14.4h-16.6z" fill="#000"/><path d="M551.6 573.5l8.3 14.4h-16.6z" fill="#000"/><path d="M550.7 590.8l8.3 14.4h-16.6z" fill="#000"/><path d="M566.7 608.2l8.3 14.4h-16.6z" fill="#000"/><path d="M586.5 625.5l8.3 14.4h-16.6z" fill="#000"/><path d="M622.6 642.9l8.3 14.4h-16.6z" fill="#000"/><path d="M641.6 660.2l8.3 14.4h-16.6z" fill="#000"/>
<polyline points="633.9,130.8 631.4,148.1 628.8,165.5 626.3,182.8 623.8,200.2 621.3,217.5 618.8,234.9 616.2,252.2 613.7,269.6 611.2,286.9 608.7,304.3 606.1,321.6 603.6,339.0 601.1,356.3 598.6,373.7 596.1,391.0 593.5,408.4 591.0,425.7 588.5,443.1 586.0,460.4 583.5,477.8 580.9,495.1 578.4,512.5 575.9,529.8 573.4,547.2 570.9,564.5 568.4,581.9 569.7,599.2 584.1,616.6 600.9,633.9 622.6,651.3 641.6,668.6 647.9,686.0 652.6,703.3 656.6,720.7" fill="none" stroke="#000" stroke-width="3.2"/>
<rect x="627.4" y="124.3" width="13" height="13" fill="#000"/><rect x="624.9" y="141.6" width="13" height="13" fill="#000"/><rect x="622.3" y="159.0" width="13" height="13" fill="#000"/><rect x="619.8" y="176.3" width="13" height="13" fill="#000"/><rect x="617.3" y="193.7" width="13" height="13" fill="#000"/><rect x="614.8" y="211.0" width="13" height="13" fill="#000"/><rect x="612.3" y="228.4" width="13" height="13" fill="#000"/><rect x="609.7" y="245.7" width="13" height="13" fill="#000"/><rect x="607.2" y="263.1" width="13" height="13" fill="#000"/><rect x="604.7" y="280.4" width="13" height="13" fill="#000"/><rect x="602.2" y="297.8" width="13" height="13" fill="#000"/><rect x="599.6" y="315.1" width="13" height="13" fill="#000"/><rect x="597.1" y="332.5" width="13" height="13" fill="#000"/><rect x="594.6" y="349.8" width="13" height="13" fill="#000"/><rect x="592.1" y="367.2" width="13" height="13" fill="#000"/><rect x="589.6" y="384.5" width="13" height="13" fill="#000"/><rect x="587.0" y="401.9" width="13" height="13" fill="#000"/><rect x="584.5" y="419.2" width="13" height="13" fill="#000"/><rect x="582.0" y="436.6" width="13" height="13" fill="#000"/><rect x="579.5" y="453.9" width="13" height="13" fill="#000"/><rect x="577.0" y="471.3" width="13" height="13" fill="#000"/><rect x="574.4" y="488.6" width="13" height="13" fill="#000"/><rect x="571.9" y="506.0" width="13" height="13" fill="#000"/><rect x="569.4" y="523.3" width="13" height="13" fill="#000"/><rect x="566.9" y="540.7" width="13" height="13" fill="#000"/><rect x="564.4" y="558.0" width="13" height="13" fill="#000"/><rect x="561.9" y="575.4" width="13" height="13" fill="#000"/><rect x="563.2" y="592.7" width="13" height="13" fill="#000"/><rect x="577.6" y="610.1" width="13" height="13" fill="#000"/><rect x="594.4" y="627.4" width="13" height="13" fill="#000"/><rect x="616.1" y="644.8" width="13" height="13" fill="#000"/><rect x="635.1" y="662.1" width="13" height="13" fill="#000"/><rect x="641.4" y="679.5" width="13" height="13" fill="#000"/><rect x="646.1" y="696.8" width="13" height="13" fill="#000"/><rect x="650.1" y="714.2" width="13" height="13" fill="#000"/>
<polyline points="652.2,130.8 649.3,148.1 646.4,165.5 643.5,182.8 640.6,200.2 637.6,217.5 634.7,234.9 631.8,252.2 628.9,269.6 626.0,286.9 623.0,304.3 620.1,321.6 617.2,339.0 614.3,356.3 611.4,373.7 608.4,391.0 605.5,408.4 602.6,425.7 599.7,443.1 596.7,460.4 593.8,477.8 590.9,495.1 588.0,512.5 585.1,529.8 582.1,547.2 579.2,564.5 576.3,581.9 574.1,599.2 584.1,616.6 600.9,633.9 622.6,651.3 641.6,668.6 647.9,686.0 652.6,703.3 656.6,720.7 660.6,738.0 663.8,755.4 667.7,772.7 671.0,790.1 674.1,807.4" fill="none" stroke="#000" stroke-width="4.2"/>
<path d="M652.2 125.5l5.3 5.3l-5.3 5.3l-5.3-5.3z" fill="#000"/><path d="M649.3 142.8l5.3 5.3l-5.3 5.3l-5.3-5.3z" fill="#000"/><path d="M646.4 160.2l5.3 5.3l-5.3 5.3l-5.3-5.3z" fill="#000"/><path d="M643.5 177.5l5.3 5.3l-5.3 5.3l-5.3-5.3z" fill="#000"/><path d="M640.6 194.9l5.3 5.3l-5.3 5.3l-5.3-5.3z" fill="#000"/><path d="M637.6 212.2l5.3 5.3l-5.3 5.3l-5.3-5.3z" fill="#000"/><path d="M634.7 229.6l5.3 5.3l-5.3 5.3l-5.3-5.3z" fill="#000"/><path d="M631.8 246.9l5.3 5.3l-5.3 5.3l-5.3-5.3z" fill="#000"/><path d="M628.9 264.3l5.3 5.3l-5.3 5.3l-5.3-5.3z" fill="#000"/><path d="M626.0 281.6l5.3 5.3l-5.3 5.3l-5.3-5.3z" fill="#000"/><path d="M623.0 299.0l5.3 5.3l-5.3 5.3l-5.3-5.3z" fill="#000"/><path d="M620.1 316.3l5.3 5.3l-5.3 5.3l-5.3-5.3z" fill="#000"/><path d="M617.2 333.7l5.3 5.3l-5.3 5.3l-5.3-5.3z" fill="#000"/><path d="M614.3 351.0l5.3 5.3l-5.3 5.3l-5.3-5.3z" fill="#000"/><path d="M611.4 368.4l5.3 5.3l-5.3 5.3l-5.3-5.3z" fill="#000"/><path d="M608.4 385.7l5.3 5.3l-5.3 5.3l-5.3-5.3z" fill="#000"/><path d="M605.5 403.1l5.3 5.3l-5.3 5.3l-5.3-5.3z" fill="#000"/><path d="M602.6 420.4l5.3 5.3l-5.3 5.3l-5.3-5.3z" fill="#000"/><path d="M599.7 437.8l5.3 5.3l-5.3 5.3l-5.3-5.3z" fill="#000"/><path d="M596.7 455.1l5.3 5.3l-5.3 5.3l-5.3-5.3z" fill="#000"/><path d="M593.8 472.5l5.3 5.3l-5.3 5.3l-5.3-5.3z" fill="#000"/><path d="M590.9 489.8l5.3 5.3l-5.3 5.3l-5.3-5.3z" fill="#000"/><path d="M588.0 507.2l5.3 5.3l-5.3 5.3l-5.3-5.3z" fill="#000"/><path d="M585.1 524.5l5.3 5.3l-5.3 5.3l-5.3-5.3z" fill="#000"/><path d="M582.1 541.9l5.3 5.3l-5.3 5.3l-5.3-5.3z" fill="#000"/><path d="M579.2 559.2l5.3 5.3l-5.3 5.3l-5.3-5.3z" fill="#000"/><path d="M576.3 576.6l5.3 5.3l-5.3 5.3l-5.3-5.3z" fill="#000"/><path d="M574.1 593.9l5.3 5.3l-5.3 5.3l-5.3-5.3z" fill="#000"/><path d="M584.1 611.3l5.3 5.3l-5.3 5.3l-5.3-5.3z" fill="#000"/><path d="M600.9 628.6l5.3 5.3l-5.3 5.3l-5.3-5.3z" fill="#000"/><path d="M622.6 646.0l5.3 5.3l-5.3 5.3l-5.3-5.3z" fill="#000"/><path d="M641.6 663.3l5.3 5.3l-5.3 5.3l-5.3-5.3z" fill="#000"/><path d="M647.9 680.7l5.3 5.3l-5.3 5.3l-5.3-5.3z" fill="#000"/><path d="M652.6 698.0l5.3 5.3l-5.3 5.3l-5.3-5.3z" fill="#000"/><path d="M656.6 715.4l5.3 5.3l-5.3 5.3l-5.3-5.3z" fill="#000"/><path d="M660.6 732.7l5.3 5.3l-5.3 5.3l-5.3-5.3z" fill="#000"/><path d="M663.8 750.1l5.3 5.3l-5.3 5.3l-5.3-5.3z" fill="#000"/><path d="M667.7 767.4l5.3 5.3l-5.3 5.3l-5.3-5.3z" fill="#000"/><path d="M671.0 784.8l5.3 5.3l-5.3 5.3l-5.3-5.3z" fill="#000"/><path d="M674.1 802.1l5.3 5.3l-5.3 5.3l-5.3-5.3z" fill="#000"/>
<polyline points="654.6,130.8 651.7,148.1 648.8,165.5 645.9,182.8 643.0,200.2 640.0,217.5 637.1,234.9 634.2,252.2 631.3,269.6 628.3,286.9 625.4,304.3 622.5,321.6 619.6,339.0 616.7,356.3 613.7,373.7 610.8,391.0 607.9,408.4 605.0,425.7 602.1,443.1 599.1,460.4 596.2,477.8 593.3,495.1 590.4,512.5 587.5,529.8 584.5,547.2 581.6,564.5 578.7,581.9 575.5,599.2 584.1,616.6 600.9,633.9 622.6,651.3 641.6,668.6 647.9,686.0 652.6,703.3 656.6,720.7 660.6,738.0 663.8,755.4 667.7,772.7 671.0,790.1 674.1,807.4 677.0,824.8" fill="none" stroke="#000" stroke-width="2.4"/>
<path d="M648.6 124.8l12 12m0-12l-12 12" stroke="#111" stroke-width="1.4" fill="none"/><path d="M645.7 142.1l12 12m0-12l-12 12" stroke="#111" stroke-width="1.4" fill="none"/><path d="M642.8 159.5l12 12m0-12l-12 12" stroke="#111" stroke-width="1.4" fill="none"/><path d="M639.9 176.8l12 12m0-12l-12 12" stroke="#111" stroke-width="1.4" fill="none"/><path d="M637.0 194.2l12 12m0-12l-12 12" stroke="#111" stroke-width="1.4" fill="none"/><path d="M634.0 211.5l12 12m0-12l-12 12" stroke="#111" stroke-width="1.4" fill="none"/><path d="M631.1 228.9l12 12m0-12l-12 12" stroke="#111" stroke-width="1.4" fill="none"/><path d="M628.2 246.2l12 12m0-12l-12 12" stroke="#111" stroke-width="1.4" fill="none"/><path d="M625.3 263.6l12 12m0-12l-12 12" stroke="#111" stroke-width="1.4" fill="none"/><path d="M622.3 280.9l12 12m0-12l-12 12" stroke="#111" stroke-width="1.4" fill="none"/><path d="M619.4 298.3l12 12m0-12l-12 12" stroke="#111" stroke-width="1.4" fill="none"/><path d="M616.5 315.6l12 12m0-12l-12 12" stroke="#111" stroke-width="1.4" fill="none"/><path d="M613.6 333.0l12 12m0-12l-12 12" stroke="#111" stroke-width="1.4" fill="none"/><path d="M610.7 350.3l12 12m0-12l-12 12" stroke="#111" stroke-width="1.4" fill="none"/><path d="M607.7 367.7l12 12m0-12l-12 12" stroke="#111" stroke-width="1.4" fill="none"/><path d="M604.8 385.0l12 12m0-12l-12 12" stroke="#111" stroke-width="1.4" fill="none"/><path d="M601.9 402.4l12 12m0-12l-12 12" stroke="#111" stroke-width="1.4" fill="none"/><path d="M599.0 419.7l12 12m0-12l-12 12" stroke="#111" stroke-width="1.4" fill="none"/><path d="M596.1 437.1l12 12m0-12l-12 12" stroke="#111" stroke-width="1.4" fill="none"/><path d="M593.1 454.4l12 12m0-12l-12 12" stroke="#111" stroke-width="1.4" fill="none"/><path d="M590.2 471.8l12 12m0-12l-12 12" stroke="#111" stroke-width="1.4" fill="none"/><path d="M587.3 489.1l12 12m0-12l-12 12" stroke="#111" stroke-width="1.4" fill="none"/><path d="M584.4 506.5l12 12m0-12l-12 12" stroke="#111" stroke-width="1.4" fill="none"/><path d="M581.5 523.8l12 12m0-12l-12 12" stroke="#111" stroke-width="1.4" fill="none"/><path d="M578.5 541.2l12 12m0-12l-12 12" stroke="#111" stroke-width="1.4" fill="none"/><path d="M575.6 558.5l12 12m0-12l-12 12" stroke="#111" stroke-width="1.4" fill="none"/><path d="M572.7 575.9l12 12m0-12l-12 12" stroke="#111" stroke-width="1.4" fill="none"/><path d="M569.5 593.2l12 12m0-12l-12 12" stroke="#111" stroke-width="1.4" fill="none"/><path d="M578.1 610.6l12 12m0-12l-12 12" stroke="#111" stroke-width="1.4" fill="none"/><path d="M594.9 627.9l12 12m0-12l-12 12" stroke="#111" stroke-width="1.4" fill="none"/><path d="M616.6 645.3l12 12m0-12l-12 12" stroke="#111" stroke-width="1.4" fill="none"/><path d="M635.6 662.6l12 12m0-12l-12 12" stroke="#111" stroke-width="1.4" fill="none"/><path d="M641.9 680.0l12 12m0-12l-12 12" stroke="#111" stroke-width="1.4" fill="none"/><path d="M646.6 697.3l12 12m0-12l-12 12" stroke="#111" stroke-width="1.4" fill="none"/><path d="M650.6 714.7l12 12m0-12l-12 12" stroke="#111" stroke-width="1.4" fill="none"/><path d="M654.6 732.0l12 12m0-12l-12 12" stroke="#111" stroke-width="1.4" fill="none"/><path d="M657.8 749.4l12 12m0-12l-12 12" stroke="#111" stroke-width="1.4" fill="none"/><path d="M661.7 766.7l12 12m0-12l-12 12" stroke="#111" stroke-width="1.4" fill="none"/><path d="M665.0 784.1l12 12m0-12l-12 12" stroke="#111" stroke-width="1.4" fill="none"/><path d="M668.1 801.4l12 12m0-12l-12 12" stroke="#111" stroke-width="1.4" fill="none"/><path d="M671.0 818.8l12 12m0-12l-12 12" stroke="#111" stroke-width="1.4" fill="none"/>
<rect x="212.2" y="-76.1" width="644.8" height="115" rx="3" fill="none" stroke="#5a5a5a" stroke-width="3"/>
<path d="M223.5 -46.6h56" fill="none" stroke="#6a6a6a" stroke-width="2.8" stroke-dasharray="3,3.5"/>
<g transform="translate(252.0,-46.6) scale(0.90)"><circle cx="0.0" cy="0.0" r="5.2" fill="#fff" stroke="#666" stroke-width="3.4"/></g>
<text x="286.5" y="-39.4" font-size="24" fill="#4a4a4a" stroke="#4a4a4a" stroke-width="0.7" textLength="131" lengthAdjust="spacingAndGlyphs" font-family="Liberation Sans, Arial, sans-serif">Without Pile</text>
<path d="M440.0 -46.6h56" fill="none" stroke="#000" stroke-width="3.8"/>
<g transform="translate(468.5,-46.6) scale(0.92)"><circle cx="0.0" cy="0.0" r="6.9" fill="#000"/></g>
<text x="501.5" y="-39.4" font-size="24" fill="#4a4a4a" stroke="#4a4a4a" stroke-width="0.7" textLength="77.5" lengthAdjust="spacingAndGlyphs" font-family="Liberation Sans, Arial, sans-serif">Pile-0H</text>
<path d="M656.0 -46.6h56" fill="none" stroke="#000" stroke-width="3.8"/>
<g transform="translate(684.5,-46.6) scale(1.00)"><path d="M0.0 -8.4l8.3 14.4h-16.6z" fill="#000"/></g>
<text x="717.5" y="-39.4" font-size="24" fill="#4a4a4a" stroke="#4a4a4a" stroke-width="0.7" textLength="77.5" lengthAdjust="spacingAndGlyphs" font-family="Liberation Sans, Arial, sans-serif">Pile-1H</text>
<path d="M223.5 11.2h56" fill="none" stroke="#000" stroke-width="3.8"/>
<g transform="translate(252.0,11.2) scale(1.00)"><rect x="-6.5" y="-6.5" width="13" height="13" fill="#000"/></g>
<text x="285.0" y="18.4" font-size="24" fill="#4a4a4a" stroke="#4a4a4a" stroke-width="0.7" textLength="77.5" lengthAdjust="spacingAndGlyphs" font-family="Liberation Sans, Arial, sans-serif">Pile-2H</text>
<path d="M440.0 11.2h56" fill="none" stroke="#000" stroke-width="3.8"/>
<g transform="translate(468.5,11.2) scale(0.90)"><path d="M0.0 -5.3l5.3 5.3l-5.3 5.3l-5.3-5.3z" fill="#000"/></g>
<text x="501.5" y="18.4" font-size="24" fill="#4a4a4a" stroke="#4a4a4a" stroke-width="0.7" textLength="77.5" lengthAdjust="spacingAndGlyphs" font-family="Liberation Sans, Arial, sans-serif">Pile-3H</text>
<path d="M656.0 11.2h56" fill="none" stroke="#000" stroke-width="3.4"/>
<g transform="translate(684.5,11.2) scale(1.10)"><path d="M-6.0 -6.0l12 12m0-12l-12 12" stroke="#111" stroke-width="1.4" fill="none"/></g>
<text x="717.5" y="18.4" font-size="24" fill="#4a4a4a" stroke="#4a4a4a" stroke-width="0.7" textLength="77.5" lengthAdjust="spacingAndGlyphs" font-family="Liberation Sans, Arial, sans-serif">Pile-4H</text>
</g>
<g transform="translate(2349.20,85.00) scale(0.9910)">
<path d="M0.0 0V872.0M159.7 0V872.0M319.3 0V872.0M479.0 0V872.0M638.7 0V872.0M798.3 0V872.0M958.0 0V872.0M0 0.0H958.0M0 72.7H958.0M0 145.3H958.0M0 218.0H958.0M0 290.7H958.0M0 363.3H958.0M0 436.0H958.0M0 508.7H958.0M0 581.3H958.0M0 654.0H958.0M0 726.7H958.0M0 799.3H958.0M0 872.0H958.0" stroke="#e2e2e2" stroke-width="3.2" fill="none"/>
<path d="M22.9 44.2H136.5M22.9 133.1H136.5M22.9 198.8H136.5M22.9 266.6H136.5M22.9 334.7H136.5M22.9 402.1H136.5M22.9 469.6H136.5M22.9 537.4H136.5" stroke="#8a8a8a" stroke-width="4.2" fill="none"/>
<path d="M23.5 604.9H135.9M23.5 658.6H135.9M23.5 713.1H135.9M23.5 766.5H135.9M23.5 820.5H135.9" stroke="#000" stroke-width="5.2" fill="none"/>
<rect x="26.2" y="78.7" width="97.5" height="20" fill="#fff"/>
<text x="75" y="93.7" text-anchor="middle" font-size="21" fill="#333" stroke="#333" stroke-width="1.0" textLength="93.5" lengthAdjust="spacingAndGlyphs" font-family="Liberation Sans, Arial, sans-serif">Cap Con&#39;c</text>
<rect x="32.0" y="155.9" width="86.0" height="20" fill="#fff"/>
<text x="75" y="173.4" text-anchor="middle" font-size="21" fill="#333" stroke="#333" stroke-width="1.0" textLength="82.0" lengthAdjust="spacingAndGlyphs" font-family="Liberation Sans, Arial, sans-serif">Block-07</text>
<rect x="32.0" y="222.7" width="86.0" height="20" fill="#fff"/>
<text x="75" y="240.2" text-anchor="middle" font-size="21" fill="#333" stroke="#333" stroke-width="1.0" textLength="82.0" lengthAdjust="spacingAndGlyphs" font-family="Liberation Sans, Arial, sans-serif">Block-06</text>
<rect x="32.0" y="290.6" width="86.0" height="20" fill="#fff"/>
<text x="75" y="308.1" text-anchor="middle" font-size="21" fill="#333" stroke="#333" stroke-width="1.0" textLength="82.0" lengthAdjust="spacingAndGlyphs" font-family="Liberation Sans, Arial, sans-serif">Block-05</text>
<rect x="32.0" y="358.4" width="86.0" height="20" fill="#fff"/>
<text x="75" y="375.9" text-anchor="middle" font-size="21" fill="#333" stroke="#333" stroke-width="1.0" textLength="82.0" lengthAdjust="spacingAndGlyphs" font-family="Liberation Sans, Arial, sans-serif">Block-04</text>
<rect x="32.0" y="425.9" width="86.0" height="20" fill="#fff"/>
<text x="75" y="443.4" text-anchor="middle" font-size="21" fill="#333" stroke="#333" stroke-width="1.0" textLength="82.0" lengthAdjust="spacingAndGlyphs" font-family="Liberation Sans, Arial, sans-serif">Block-03</text>
<rect x="32.0" y="493.5" width="86.0" height="20" fill="#fff"/>
<text x="75" y="511.0" text-anchor="middle" font-size="21" fill="#333" stroke="#333" stroke-width="1.0" textLength="82.0" lengthAdjust="spacingAndGlyphs" font-family="Liberation Sans, Arial, sans-serif">Block-02</text>
<rect x="32.0" y="561.1" width="86.0" height="20" fill="#fff"/>
<text x="75" y="578.6" text-anchor="middle" font-size="21" fill="#333" stroke="#333" stroke-width="1.0" textLength="82.0" lengthAdjust="spacingAndGlyphs" font-family="Liberation Sans, Arial, sans-serif">Block-01</text>
<rect x="-11.5" y="621.8" width="175.0" height="20" fill="#fff"/>
<text x="76.0" y="639.0" text-anchor="middle" font-size="20" font-weight="bold" fill="#111" stroke="#111" stroke-width="0.3" textLength="171.0" lengthAdjust="spacingAndGlyphs" font-family="Liberation Sans, Arial, sans-serif">Rubble Layer : 1H</text>
<rect x="-0.8" y="675.9" width="149.5" height="20" fill="#fff"/>
<text x="74.0" y="693.1" text-anchor="middle" font-size="20" font-weight="bold" fill="#111" stroke="#111" stroke-width="0.3" textLength="145.5" lengthAdjust="spacingAndGlyphs" font-family="Liberation Sans, Arial, sans-serif">Pile Depth : 2H</text>
<rect x="-0.8" y="729.8" width="149.5" height="20" fill="#fff"/>
<text x="74.0" y="747.0" text-anchor="middle" font-size="20" font-weight="bold" fill="#111" stroke="#111" stroke-width="0.3" textLength="145.5" lengthAdjust="spacingAndGlyphs" font-family="Liberation Sans, Arial, sans-serif">Pile Depth : 3H</text>
<rect x="-0.8" y="783.5" width="149.5" height="20" fill="#fff"/>
<text x="74.0" y="800.7" text-anchor="middle" font-size="20" font-weight="bold" fill="#111" stroke="#111" stroke-width="0.3" textLength="145.5" lengthAdjust="spacingAndGlyphs" font-family="Liberation Sans, Arial, sans-serif">Pile Depth : 4H</text>
<rect x="889.2" y="-11.0" width="43.4" height="22" fill="#fff"/>
<text x="927.6" y="8.4" text-anchor="end" font-size="24" fill="#333" stroke="#333" stroke-width="1.0" font-family="Liberation Sans, Arial, sans-serif">6.0</text>
<rect x="889.2" y="61.7" width="43.4" height="22" fill="#fff"/>
<text x="927.6" y="81.1" text-anchor="end" font-size="24" fill="#333" stroke="#333" stroke-width="1.0" font-family="Liberation Sans, Arial, sans-serif">4.0</text>
<rect x="889.2" y="134.3" width="43.4" height="22" fill="#fff"/>
<text x="927.6" y="153.7" text-anchor="end" font-size="24" fill="#333" stroke="#333" stroke-width="1.0" font-family="Liberation Sans, Arial, sans-serif">2.0</text>
<rect x="889.2" y="207.0" width="43.4" height="22" fill="#fff"/>
<text x="927.6" y="226.4" text-anchor="end" font-size="24" fill="#333" stroke="#333" stroke-width="1.0" font-family="Liberation Sans, Arial, sans-serif">0.0</text>
<rect x="881.2" y="279.7" width="51.4" height="22" fill="#fff"/>
<text x="927.6" y="299.1" text-anchor="end" font-size="24" fill="#333" stroke="#333" stroke-width="1.0" font-family="Liberation Sans, Arial, sans-serif">-2.0</text>
<rect x="881.2" y="352.3" width="51.4" height="22" fill="#fff"/>
<text x="927.6" y="371.7" text-anchor="end" font-size="24" fill="#333" stroke="#333" stroke-width="1.0" font-family="Liberation Sans, Arial, sans-serif">-4.0</text>
<rect x="881.2" y="425.0" width="51.4" height="22" fill="#fff"/>
<text x="927.6" y="444.4" text-anchor="end" font-size="24" fill="#333" stroke="#333" stroke-width="1.0" font-family="Liberation Sans, Arial, sans-serif">-6.0</text>
<rect x="881.2" y="497.7" width="51.4" height="22" fill="#fff"/>
<text x="927.6" y="517.1" text-anchor="end" font-size="24" fill="#333" stroke="#333" stroke-width="1.0" font-family="Liberation Sans, Arial, sans-serif">-8.0</text>
<rect x="867.9" y="570.3" width="64.7" height="22" fill="#fff"/>
<text x="927.6" y="589.7" text-anchor="end" font-size="24" fill="#333" stroke="#333" stroke-width="1.0" font-family="Liberation Sans, Arial, sans-serif">-10.0</text>
<rect x="867.9" y="643.0" width="64.7" height="22" fill="#fff"/>
<text x="927.6" y="662.4" text-anchor="end" font-size="24" fill="#333" stroke="#333" stroke-width="1.0" font-family="Liberation Sans, Arial, sans-serif">-12.0</text>
<rect x="867.9" y="715.7" width="64.7" height="22" fill="#fff"/>
<text x="927.6" y="735.1" text-anchor="end" font-size="24" fill="#333" stroke="#333" stroke-width="1.0" font-family="Liberation Sans, Arial, sans-serif">-14.0</text>
<rect x="867.9" y="788.3" width="64.7" height="22" fill="#fff"/>
<text x="927.6" y="807.7" text-anchor="end" font-size="24" fill="#333" stroke="#333" stroke-width="1.0" font-family="Liberation Sans, Arial, sans-serif">-16.0</text>
<rect x="867.9" y="861.0" width="64.7" height="22" fill="#fff"/>
<text x="927.6" y="880.4" text-anchor="end" font-size="24" fill="#333" stroke="#333" stroke-width="1.0" font-family="Liberation Sans, Arial, sans-serif">-18.0</text>
<rect x="-32.9" y="239.2" width="60.7" height="22" fill="#fff"/>
<text x="-2.5" y="258.6" text-anchor="middle" font-size="24" fill="#333" stroke="#333" stroke-width="1.0" font-family="Liberation Sans, Arial, sans-serif">-12.0</text>
<rect x="126.8" y="239.2" width="60.7" height="22" fill="#fff"/>
<text x="157.2" y="258.6" text-anchor="middle" font-size="24" fill="#333" stroke="#333" stroke-width="1.0" font-family="Liberation Sans, Arial, sans-serif">-10.0</text>
<rect x="293.1" y="239.2" width="47.4" height="22" fill="#fff"/>
<text x="316.8" y="258.6" text-anchor="middle" font-size="24" fill="#333" stroke="#333" stroke-width="1.0" font-family="Liberation Sans, Arial, sans-serif">-8.0</text>
<rect x="452.8" y="239.2" width="47.4" height="22" fill="#fff"/>
<text x="476.5" y="258.6" text-anchor="middle" font-size="24" fill="#333" stroke="#333" stroke-width="1.0" font-family="Liberation Sans, Arial, sans-serif">-6.0</text>
<rect x="612.5" y="239.2" width="47.4" height="22" fill="#fff"/>
<text x="636.2" y="258.6" text-anchor="middle" font-size="24" fill="#333" stroke="#333" stroke-width="1.0" font-family="Liberation Sans, Arial, sans-serif">-4.0</text>
<rect x="772.1" y="239.2" width="47.4" height="22" fill="#fff"/>
<text x="795.8" y="258.6" text-anchor="middle" font-size="24" fill="#333" stroke="#333" stroke-width="1.0" font-family="Liberation Sans, Arial, sans-serif">-2.0</text>
<rect x="935.8" y="239.2" width="39.4" height="22" fill="#fff"/>
<text x="955.5" y="258.6" text-anchor="middle" font-size="24" fill="#333" stroke="#333" stroke-width="1.0" font-family="Liberation Sans, Arial, sans-serif">0.0</text>
<text x="390.6" y="919.1" font-size="30.5" font-weight="bold" fill="#111" stroke="#111" stroke-width="0.4" textLength="362" lengthAdjust="spacingAndGlyphs" font-family="Liberation Sans, Arial, sans-serif">Lateral Displacement (mm)</text>
<text transform="translate(1006,495.5) rotate(-90)" x="0" y="0" font-size="29.5" font-weight="bold" fill="#111" stroke="#111" stroke-width="0.4" textLength="219" lengthAdjust="spacingAndGlyphs" font-family="Liberation Sans, Arial, sans-serif">Block Height (m)</text>
<polyline points="307.4,130.8 314.8,148.1 322.2,165.5 329.7,182.8 337.1,200.2 344.6,217.5 352.0,234.9 359.4,252.2 366.9,269.6 374.3,286.9 381.8,304.3 389.2,321.6 396.6,339.0 404.1,356.3 411.5,373.7 419.0,391.0 426.4,408.4 433.8,425.7 441.3,443.1 448.7,460.4 456.2,477.8 463.6,495.1 471.0,512.5 478.5,529.8 485.9,547.2 493.3,564.5 500.8,581.9" fill="none" stroke="#6a6a6a" stroke-width="2.8" stroke-dasharray="3,3.5"/>
<circle cx="307.4" cy="130.8" r="5.2" fill="#fff" stroke="#666" stroke-width="3.4"/><circle cx="314.8" cy="148.1" r="5.2" fill="#fff" stroke="#666" stroke-width="3.4"/><circle cx="322.2" cy="165.5" r="5.2" fill="#fff" stroke="#666" stroke-width="3.4"/><circle cx="329.7" cy="182.8" r="5.2" fill="#fff" stroke="#666" stroke-width="3.4"/><circle cx="337.1" cy="200.2" r="5.2" fill="#fff" stroke="#666" stroke-width="3.4"/><circle cx="344.6" cy="217.5" r="5.2" fill="#fff" stroke="#666" stroke-width="3.4"/><circle cx="352.0" cy="234.9" r="5.2" fill="#fff" stroke="#666" stroke-width="3.4"/><circle cx="359.4" cy="252.2" r="5.2" fill="#fff" stroke="#666" stroke-width="3.4"/><circle cx="366.9" cy="269.6" r="5.2" fill="#fff" stroke="#666" stroke-width="3.4"/><circle cx="374.3" cy="286.9" r="5.2" fill="#fff" stroke="#666" stroke-width="3.4"/><circle cx="381.8" cy="304.3" r="5.2" fill="#fff" stroke="#666" stroke-width="3.4"/><circle cx="389.2" cy="321.6" r="5.2" fill="#fff" stroke="#666" stroke-width="3.4"/><circle cx="396.6" cy="339.0" r="5.2" fill="#fff" stroke="#666" stroke-width="3.4"/><circle cx="404.1" cy="356.3" r="5.2" fill="#fff" stroke="#666" stroke-width="3.4"/><circle cx="411.5" cy="373.7" r="5.2" fill="#fff" stroke="#666" stroke-width="3.4"/><circle cx="419.0" cy="391.0" r="5.2" fill="#fff" stroke="#666" stroke-width="3.4"/><circle cx="426.4" cy="408.4" r="5.2" fill="#fff" stroke="#666" stroke-width="3.4"/><circle cx="433.8" cy="425.7" r="5.2" fill="#fff" stroke="#666" stroke-width="3.4"/><circle cx="441.3" cy="443.1" r="5.2" fill="#fff" stroke="#666" stroke-width="3.4"/><circle cx="448.7" cy="460.4" r="5.2" fill="#fff" stroke="#666" stroke-width="3.4"/><circle cx="456.2" cy="477.8" r="5.2" fill="#fff" stroke="#666" stroke-width="3.4"/><circle cx="463.6" cy="495.1" r="5.2" fill="#fff" stroke="#666" stroke-width="3.4"/><circle cx="471.0" cy="512.5" r="5.2" fill="#fff" stroke="#666" stroke-width="3.4"/><circle cx="478.5" cy="529.8" r="5.2" fill="#fff" stroke="#666" stroke-width="3.4"/><circle cx="485.9" cy="547.2" r="5.2" fill="#fff" stroke="#666" stroke-width="3.4"/><circle cx="493.3" cy="564.5" r="5.2" fill="#fff" stroke="#666" stroke-width="3.4"/><circle cx="500.8" cy="581.9" r="5.2" fill="#fff" stroke="#666" stroke-width="3.4"/>
<polyline points="332.1,130.8 339.3,148.1 346.5,165.5 353.7,182.8 360.9,200.2 368.1,217.5 375.3,234.9 382.5,252.2 389.7,269.6 396.8,286.9 404.0,304.3 411.2,321.6 418.4,339.0 425.6,356.3 432.8,373.7 440.0,391.0 447.2,408.4 454.4,425.7 461.6,443.1 468.8,460.4 476.0,477.8 483.2,495.1 490.4,512.5 497.6,529.8 504.8,547.2 511.9,564.5 519.0,581.9 525.2,599.2" fill="none" stroke="#000" stroke-width="3.2"/>
<circle cx="332.1" cy="130.8" r="6.9" fill="#000"/><circle cx="339.3" cy="148.1" r="6.9" fill="#000"/><circle cx="346.5" cy="165.5" r="6.9" fill="#000"/><circle cx="353.7" cy="182.8" r="6.9" fill="#000"/><circle cx="360.9" cy="200.2" r="6.9" fill="#000"/><circle cx="368.1" cy="217.5" r="6.9" fill="#000"/><circle cx="375.3" cy="234.9" r="6.9" fill="#000"/><circle cx="382.5" cy="252.2" r="6.9" fill="#000"/><circle cx="389.7" cy="269.6" r="6.9" fill="#000"/><circle cx="396.8" cy="286.9" r="6.9" fill="#000"/><circle cx="404.0" cy="304.3" r="6.9" fill="#000"/><circle cx="411.2" cy="321.6" r="6.9" fill="#000"/><circle cx="418.4" cy="339.0" r="6.9" fill="#000"/><circle cx="425.6" cy="356.3" r="6.9" fill="#000"/><circle cx="432.8" cy="373.7" r="6.9" fill="#000"/><circle cx="440.0" cy="391.0" r="6.9" fill="#000"/><circle cx="447.2" cy="408.4" r="6.9" fill="#000"/><circle cx="454.4" cy="425.7" r="6.9" fill="#000"/><circle cx="461.6" cy="443.1" r="6.9" fill="#000"/><circle cx="468.8" cy="460.4" r="6.9" fill="#000"/><circle cx="476.0" cy="477.8" r="6.9" fill="#000"/><circle cx="483.2" cy="495.1" r="6.9" fill="#000"/><circle cx="490.4" cy="512.5" r="6.9" fill="#000"/><circle cx="497.6" cy="529.8" r="6.9" fill="#000"/><circle cx="504.8" cy="547.2" r="6.9" fill="#000"/><circle cx="511.9" cy="564.5" r="6.9" fill="#000"/><circle cx="519.0" cy="581.9" r="6.9" fill="#000"/><circle cx="525.2" cy="599.2" r="6.9" fill="#000"/>
<polyline points="486.2,130.8 487.6,148.1 489.0,165.5 490.5,182.8 491.9,200.2 493.3,217.5 494.8,234.9 496.2,252.2 497.6,269.6 499.1,286.9 500.5,304.3 501.9,321.6 503.3,339.0 504.8,356.3 506.1,373.7 507.4,391.0 508.6,408.4 509.9,425.7 511.2,443.1 512.5,460.4 513.7,477.8 515.0,495.1 516.3,512.5 517.5,529.8 518.8,547.2 520.1,564.5 521.4,581.9 525.2,599.2 551.1,616.6 573.3,633.9 599.3,651.3 628.4,668.6" fill="none" stroke="#000" stroke-width="3.2"/>
<path d="M486.2 122.4l8.3 14.4h-16.6z" fill="#000"/><path d="M487.6 139.7l8.3 14.4h-16.6z" fill="#000"/><path d="M489.0 157.1l8.3 14.4h-16.6z" fill="#000"/><path d="M490.5 174.4l8.3 14.4h-16.6z" fill="#000"/><path d="M491.9 191.8l8.3 14.4h-16.6z" fill="#000"/><path d="M493.3 209.1l8.3 14.4h-16.6z" fill="#000"/><path d="M494.8 226.5l8.3 14.4h-16.6z" fill="#000"/><path d="M496.2 243.8l8.3 14.4h-16.6z" fill="#000"/><path d="M497.6 261.2l8.3 14.4h-16.6z" fill="#000"/><path d="M499.1 278.5l8.3 14.4h-16.6z" fill="#000"/><path d="M500.5 295.9l8.3 14.4h-16.6z" fill="#000"/><path d="M501.9 313.2l8.3 14.4h-16.6z" fill="#000"/><path d="M503.3 330.6l8.3 14.4h-16.6z" fill="#000"/><path d="M504.8 347.9l8.3 14.4h-16.6z" fill="#000"/><path d="M506.1 365.3l8.3 14.4h-16.6z" fill="#000"/><path d="M507.4 382.6l8.3 14.4h-16.6z" fill="#000"/><path d="M508.6 400.0l8.3 14.4h-16.6z" fill="#000"/><path d="M509.9 417.3l8.3 14.4h-16.6z" fill="#000"/><path d="M511.2 434.7l8.3 14.4h-16.6z" fill="#000"/><path d="M512.5 452.0l8.3 14.4h-16.6z" fill="#000"/><path d="M513.7 469.4l8.3 14.4h-16.6z" fill="#000"/><path d="M515.0 486.7l8.3 14.4h-16.6z" fill="#000"/><path d="M516.3 504.1l8.3 14.4h-16.6z" fill="#000"/><path d="M517.5 521.4l8.3 14.4h-16.6z" fill="#000"/><path d="M518.8 538.8l8.3 14.4h-16.6z" fill="#000"/><path d="M520.1 556.1l8.3 14.4h-16.6z" fill="#000"/><path d="M521.4 573.5l8.3 14.4h-16.6z" fill="#000"/><path d="M525.2 590.8l8.3 14.4h-16.6z" fill="#000"/><path d="M551.1 608.2l8.3 14.4h-16.6z" fill="#000"/><path d="M573.3 625.5l8.3 14.4h-16.6z" fill="#000"/><path d="M599.3 642.9l8.3 14.4h-16.6z" fill="#000"/><path d="M628.4 660.2l8.3 14.4h-16.6z" fill="#000"/>
<polyline points="574.0,130.8 572.8,148.1 571.6,165.5 570.4,182.8 569.2,200.2 568.0,217.5 566.9,234.9 565.7,252.2 564.5,269.6 563.3,286.9 562.1,304.3 560.9,321.6 559.7,339.0 558.5,356.3 557.6,373.7 556.9,391.0 556.2,408.4 555.5,425.7 554.8,443.1 554.1,460.4 553.4,477.8 552.7,495.1 552.0,512.5 551.3,529.8 550.6,547.2 549.9,564.5 549.3,581.9 550.5,599.2 564.5,616.6 584.8,633.9 605.1,651.3 628.4,668.6 637.5,686.0 641.3,703.3 643.9,720.7" fill="none" stroke="#000" stroke-width="3.2"/>
<rect x="567.5" y="124.3" width="13" height="13" fill="#000"/><rect x="566.3" y="141.6" width="13" height="13" fill="#000"/><rect x="565.1" y="159.0" width="13" height="13" fill="#000"/><rect x="563.9" y="176.3" width="13" height="13" fill="#000"/><rect x="562.7" y="193.7" width="13" height="13" fill="#000"/><rect x="561.5" y="211.0" width="13" height="13" fill="#000"/><rect x="560.4" y="228.4" width="13" height="13" fill="#000"/><rect x="559.2" y="245.7" width="13" height="13" fill="#000"/><rect x="558.0" y="263.1" width="13" height="13" fill="#000"/><rect x="556.8" y="280.4" width="13" height="13" fill="#000"/><rect x="555.6" y="297.8" width="13" height="13" fill="#000"/><rect x="554.4" y="315.1" width="13" height="13" fill="#000"/><rect x="553.2" y="332.5" width="13" height="13" fill="#000"/><rect x="552.0" y="349.8" width="13" height="13" fill="#000"/><rect x="551.1" y="367.2" width="13" height="13" fill="#000"/><rect x="550.4" y="384.5" width="13" height="13" fill="#000"/><rect x="549.7" y="401.9" width="13" height="13" fill="#000"/><rect x="549.0" y="419.2" width="13" height="13" fill="#000"/><rect x="548.3" y="436.6" width="13" height="13" fill="#000"/><rect x="547.6" y="453.9" width="13" height="13" fill="#000"/><rect x="546.9" y="471.3" width="13" height="13" fill="#000"/><rect x="546.2" y="488.6" width="13" height="13" fill="#000"/><rect x="545.5" y="506.0" width="13" height="13" fill="#000"/><rect x="544.8" y="523.3" width="13" height="13" fill="#000"/><rect x="544.1" y="540.7" width="13" height="13" fill="#000"/><rect x="543.4" y="558.0" width="13" height="13" fill="#000"/><rect x="542.8" y="575.4" width="13" height="13" fill="#000"/><rect x="544.0" y="592.7" width="13" height="13" fill="#000"/><rect x="558.0" y="610.1" width="13" height="13" fill="#000"/><rect x="578.3" y="627.4" width="13" height="13" fill="#000"/><rect x="598.6" y="644.8" width="13" height="13" fill="#000"/><rect x="621.9" y="662.1" width="13" height="13" fill="#000"/><rect x="631.0" y="679.5" width="13" height="13" fill="#000"/><rect x="634.8" y="696.8" width="13" height="13" fill="#000"/><rect x="637.4" y="714.2" width="13" height="13" fill="#000"/>
<polyline points="597.2,130.8 595.4,148.1 593.6,165.5 591.8,182.8 590.0,200.2 588.2,217.5 586.4,234.9 584.6,252.2 582.9,269.6 581.1,286.9 579.3,304.3 577.5,321.6 575.7,339.0 573.9,356.3 572.2,373.7 570.5,391.0 568.7,408.4 567.0,425.7 565.3,443.1 563.6,460.4 561.9,477.8 560.2,495.1 558.7,512.5 557.9,529.8 557.1,547.2 556.4,564.5 555.5,581.9 553.4,599.2 564.5,616.6 584.8,633.9 605.1,651.3 628.4,668.6 637.5,686.0 641.3,703.3 643.9,720.7 648.6,738.0 651.8,755.4 655.0,772.7 659.0,790.1 662.1,807.4" fill="none" stroke="#000" stroke-width="4.2"/>
<path d="M597.2 125.5l5.3 5.3l-5.3 5.3l-5.3-5.3z" fill="#000"/><path d="M595.4 142.8l5.3 5.3l-5.3 5.3l-5.3-5.3z" fill="#000"/><path d="M593.6 160.2l5.3 5.3l-5.3 5.3l-5.3-5.3z" fill="#000"/><path d="M591.8 177.5l5.3 5.3l-5.3 5.3l-5.3-5.3z" fill="#000"/><path d="M590.0 194.9l5.3 5.3l-5.3 5.3l-5.3-5.3z" fill="#000"/><path d="M588.2 212.2l5.3 5.3l-5.3 5.3l-5.3-5.3z" fill="#000"/><path d="M586.4 229.6l5.3 5.3l-5.3 5.3l-5.3-5.3z" fill="#000"/><path d="M584.6 246.9l5.3 5.3l-5.3 5.3l-5.3-5.3z" fill="#000"/><path d="M582.9 264.3l5.3 5.3l-5.3 5.3l-5.3-5.3z" fill="#000"/><path d="M581.1 281.6l5.3 5.3l-5.3 5.3l-5.3-5.3z" fill="#000"/><path d="M579.3 299.0l5.3 5.3l-5.3 5.3l-5.3-5.3z" fill="#000"/><path d="M577.5 316.3l5.3 5.3l-5.3 5.3l-5.3-5.3z" fill="#000"/><path d="M575.7 333.7l5.3 5.3l-5.3 5.3l-5.3-5.3z" fill="#000"/><path d="M573.9 351.0l5.3 5.3l-5.3 5.3l-5.3-5.3z" fill="#000"/><path d="M572.2 368.4l5.3 5.3l-5.3 5.3l-5.3-5.3z" fill="#000"/><path d="M570.5 385.7l5.3 5.3l-5.3 5.3l-5.3-5.3z" fill="#000"/><path d="M568.7 403.1l5.3 5.3l-5.3 5.3l-5.3-5.3z" fill="#000"/><path d="M567.0 420.4l5.3 5.3l-5.3 5.3l-5.3-5.3z" fill="#000"/><path d="M565.3 437.8l5.3 5.3l-5.3 5.3l-5.3-5.3z" fill="#000"/><path d="M563.6 455.1l5.3 5.3l-5.3 5.3l-5.3-5.3z" fill="#000"/><path d="M561.9 472.5l5.3 5.3l-5.3 5.3l-5.3-5.3z" fill="#000"/><path d="M560.2 489.8l5.3 5.3l-5.3 5.3l-5.3-5.3z" fill="#000"/><path d="M558.7 507.2l5.3 5.3l-5.3 5.3l-5.3-5.3z" fill="#000"/><path d="M557.9 524.5l5.3 5.3l-5.3 5.3l-5.3-5.3z" fill="#000"/><path d="M557.1 541.9l5.3 5.3l-5.3 5.3l-5.3-5.3z" fill="#000"/><path d="M556.4 559.2l5.3 5.3l-5.3 5.3l-5.3-5.3z" fill="#000"/><path d="M555.5 576.6l5.3 5.3l-5.3 5.3l-5.3-5.3z" fill="#000"/><path d="M553.4 593.9l5.3 5.3l-5.3 5.3l-5.3-5.3z" fill="#000"/><path d="M564.5 611.3l5.3 5.3l-5.3 5.3l-5.3-5.3z" fill="#000"/><path d="M584.8 628.6l5.3 5.3l-5.3 5.3l-5.3-5.3z" fill="#000"/><path d="M605.1 646.0l5.3 5.3l-5.3 5.3l-5.3-5.3z" fill="#000"/><path d="M628.4 663.3l5.3 5.3l-5.3 5.3l-5.3-5.3z" fill="#000"/><path d="M637.5 680.7l5.3 5.3l-5.3 5.3l-5.3-5.3z" fill="#000"/><path d="M641.3 698.0l5.3 5.3l-5.3 5.3l-5.3-5.3z" fill="#000"/><path d="M643.9 715.4l5.3 5.3l-5.3 5.3l-5.3-5.3z" fill="#000"/><path d="M648.6 732.7l5.3 5.3l-5.3 5.3l-5.3-5.3z" fill="#000"/><path d="M651.8 750.1l5.3 5.3l-5.3 5.3l-5.3-5.3z" fill="#000"/><path d="M655.0 767.4l5.3 5.3l-5.3 5.3l-5.3-5.3z" fill="#000"/><path d="M659.0 784.8l5.3 5.3l-5.3 5.3l-5.3-5.3z" fill="#000"/><path d="M662.1 802.1l5.3 5.3l-5.3 5.3l-5.3-5.3z" fill="#000"/>
<polyline points="599.5,130.8 597.8,148.1 596.0,165.5 594.2,182.8 592.4,200.2 590.6,217.5 588.8,234.9 587.0,252.2 585.3,269.6 583.5,286.9 581.7,304.3 579.9,321.6 578.1,339.0 576.3,356.3 574.6,373.7 572.9,391.0 571.1,408.4 569.4,425.7 567.7,443.1 566.0,460.4 564.3,477.8 562.6,495.1 561.0,512.5 560.1,529.8 559.1,547.2 558.2,564.5 557.1,581.9 554.8,599.2 564.5,616.6 584.8,633.9 605.1,651.3 628.4,668.6 637.5,686.0 641.3,703.3 643.9,720.7 648.6,738.0 651.8,755.4 655.0,772.7 659.0,790.1 662.1,807.4 664.2,824.8" fill="none" stroke="#000" stroke-width="2.4"/>
<path d="M593.5 124.8l12 12m0-12l-12 12" stroke="#111" stroke-width="1.4" fill="none"/><path d="M591.8 142.1l12 12m0-12l-12 12" stroke="#111" stroke-width="1.4" fill="none"/><path d="M590.0 159.5l12 12m0-12l-12 12" stroke="#111" stroke-width="1.4" fill="none"/><path d="M588.2 176.8l12 12m0-12l-12 12" stroke="#111" stroke-width="1.4" fill="none"/><path d="M586.4 194.2l12 12m0-12l-12 12" stroke="#111" stroke-width="1.4" fill="none"/><path d="M584.6 211.5l12 12m0-12l-12 12" stroke="#111" stroke-width="1.4" fill="none"/><path d="M582.8 228.9l12 12m0-12l-12 12" stroke="#111" stroke-width="1.4" fill="none"/><path d="M581.0 246.2l12 12m0-12l-12 12" stroke="#111" stroke-width="1.4" fill="none"/><path d="M579.3 263.6l12 12m0-12l-12 12" stroke="#111" stroke-width="1.4" fill="none"/><path d="M577.5 280.9l12 12m0-12l-12 12" stroke="#111" stroke-width="1.4" fill="none"/><path d="M575.7 298.3l12 12m0-12l-12 12" stroke="#111" stroke-width="1.4" fill="none"/><path d="M573.9 315.6l12 12m0-12l-12 12" stroke="#111" stroke-width="1.4" fill="none"/><path d="M572.1 333.0l12 12m0-12l-12 12" stroke="#111" stroke-width="1.4" fill="none"/><path d="M570.3 350.3l12 12m0-12l-12 12" stroke="#111" stroke-width="1.4" fill="none"/><path d="M568.6 367.7l12 12m0-12l-12 12" stroke="#111" stroke-width="1.4" fill="none"/><path d="M566.9 385.0l12 12m0-12l-12 12" stroke="#111" stroke-width="1.4" fill="none"/><path d="M565.1 402.4l12 12m0-12l-12 12" stroke="#111" stroke-width="1.4" fill="none"/><path d="M563.4 419.7l12 12m0-12l-12 12" stroke="#111" stroke-width="1.4" fill="none"/><path d="M561.7 437.1l12 12m0-12l-12 12" stroke="#111" stroke-width="1.4" fill="none"/><path d="M560.0 454.4l12 12m0-12l-12 12" stroke="#111" stroke-width="1.4" fill="none"/><path d="M558.3 471.8l12 12m0-12l-12 12" stroke="#111" stroke-width="1.4" fill="none"/><path d="M556.6 489.1l12 12m0-12l-12 12" stroke="#111" stroke-width="1.4" fill="none"/><path d="M555.0 506.5l12 12m0-12l-12 12" stroke="#111" stroke-width="1.4" fill="none"/><path d="M554.1 523.8l12 12m0-12l-12 12" stroke="#111" stroke-width="1.4" fill="none"/><path d="M553.1 541.2l12 12m0-12l-12 12" stroke="#111" stroke-width="1.4" fill="none"/><path d="M552.2 558.5l12 12m0-12l-12 12" stroke="#111" stroke-width="1.4" fill="none"/><path d="M551.1 575.9l12 12m0-12l-12 12" stroke="#111" stroke-width="1.4" fill="none"/><path d="M548.8 593.2l12 12m0-12l-12 12" stroke="#111" stroke-width="1.4" fill="none"/><path d="M558.5 610.6l12 12m0-12l-12 12" stroke="#111" stroke-width="1.4" fill="none"/><path d="M578.8 627.9l12 12m0-12l-12 12" stroke="#111" stroke-width="1.4" fill="none"/><path d="M599.1 645.3l12 12m0-12l-12 12" stroke="#111" stroke-width="1.4" fill="none"/><path d="M622.4 662.6l12 12m0-12l-12 12" stroke="#111" stroke-width="1.4" fill="none"/><path d="M631.5 680.0l12 12m0-12l-12 12" stroke="#111" stroke-width="1.4" fill="none"/><path d="M635.3 697.3l12 12m0-12l-12 12" stroke="#111" stroke-width="1.4" fill="none"/><path d="M637.9 714.7l12 12m0-12l-12 12" stroke="#111" stroke-width="1.4" fill="none"/><path d="M642.6 732.0l12 12m0-12l-12 12" stroke="#111" stroke-width="1.4" fill="none"/><path d="M645.8 749.4l12 12m0-12l-12 12" stroke="#111" stroke-width="1.4" fill="none"/><path d="M649.0 766.7l12 12m0-12l-12 12" stroke="#111" stroke-width="1.4" fill="none"/><path d="M653.0 784.1l12 12m0-12l-12 12" stroke="#111" stroke-width="1.4" fill="none"/><path d="M656.1 801.4l12 12m0-12l-12 12" stroke="#111" stroke-width="1.4" fill="none"/><path d="M658.2 818.8l12 12m0-12l-12 12" stroke="#111" stroke-width="1.4" fill="none"/>
<rect x="212.2" y="-76.1" width="644.8" height="115" rx="3" fill="none" stroke="#5a5a5a" stroke-width="3"/>
<path d="M223.5 -46.6h56" fill="none" stroke="#6a6a6a" stroke-width="2.8" stroke-dasharray="3,3.5"/>
<g transform="translate(252.0,-46.6) scale(0.90)"><circle cx="0.0" cy="0.0" r="5.2" fill="#fff" stroke="#666" stroke-width="3.4"/></g>
<text x="286.5" y="-39.4" font-size="24" fill="#4a4a4a" stroke="#4a4a4a" stroke-width="0.7" textLength="131" lengthAdjust="spacingAndGlyphs" font-family="Liberation Sans, Arial, sans-serif">Without Pile</text>
<path d="M440.0 -46.6h56" fill="none" stroke="#000" stroke-width="3.8"/>
<g transform="translate(468.5,-46.6) scale(0.92)"><circle cx="0.0" cy="0.0" r="6.9" fill="#000"/></g>
<text x="501.5" y="-39.4" font-size="24" fill="#4a4a4a" stroke="#4a4a4a" stroke-width="0.7" textLength="77.5" lengthAdjust="spacingAndGlyphs" font-family="Liberation Sans, Arial, sans-serif">Pile-0H</text>
<path d="M656.0 -46.6h56" fill="none" stroke="#000" stroke-width="3.8"/>
<g transform="translate(684.5,-46.6) scale(1.00)"><path d="M0.0 -8.4l8.3 14.4h-16.6z" fill="#000"/></g>
<text x="717.5" y="-39.4" font-size="24" fill="#4a4a4a" stroke="#4a4a4a" stroke-width="0.7" textLength="77.5" lengthAdjust="spacingAndGlyphs" font-family="Liberation Sans, Arial, sans-serif">Pile-1H</text>
<path d="M223.5 11.2h56" fill="none" stroke="#000" stroke-width="3.8"/>
<g transform="translate(252.0,11.2) scale(1.00)"><rect x="-6.5" y="-6.5" width="13" height="13" fill="#000"/></g>
<text x="285.0" y="18.4" font-size="24" fill="#4a4a4a" stroke="#4a4a4a" stroke-width="0.7" textLength="77.5" lengthAdjust="spacingAndGlyphs" font-family="Liberation Sans, Arial, sans-serif">Pile-2H</text>
<path d="M440.0 11.2h56" fill="none" stroke="#000" stroke-width="3.8"/>
<g transform="translate(468.5,11.2) scale(0.90)"><path d="M0.0 -5.3l5.3 5.3l-5.3 5.3l-5.3-5.3z" fill="#000"/></g>
<text x="501.5" y="18.4" font-size="24" fill="#4a4a4a" stroke="#4a4a4a" stroke-width="0.7" textLength="77.5" lengthAdjust="spacingAndGlyphs" font-family="Liberation Sans, Arial, sans-serif">Pile-3H</text>
<path d="M656.0 11.2h56" fill="none" stroke="#000" stroke-width="3.4"/>
<g transform="translate(684.5,11.2) scale(1.10)"><path d="M-6.0 -6.0l12 12m0-12l-12 12" stroke="#111" stroke-width="1.4" fill="none"/></g>
<text x="717.5" y="18.4" font-size="24" fill="#4a4a4a" stroke="#4a4a4a" stroke-width="0.7" textLength="77.5" lengthAdjust="spacingAndGlyphs" font-family="Liberation Sans, Arial, sans-serif">Pile-4H</text>
</g>
<text x="230.4" y="1112.7" font-family="Liberation Serif, Times New Roman, serif" font-size="82" fill="#000">(a)</text>
<text x="369.8" y="1111.2" font-style="italic" font-family="Noto Serif CJK SC, Noto Serif CJK JP, Liberation Serif, serif" font-size="77" fill="#000">&#916;</text>
<text x="441.4" y="1113" font-family="Liberation Serif, Times New Roman, serif" font-size="83.5" fill="#000" textLength="62.9" lengthAdjust="spacingAndGlyphs">H</text>
<text x="502.4" y="1112.7" font-family="Liberation Serif, Times New Roman, serif" font-size="82" fill="#000" textLength="54.5" lengthAdjust="spacingAndGlyphs">=</text>
<text x="553.4" y="1112.7" font-family="Liberation Serif, Times New Roman, serif" font-size="82" fill="#000">1.205m</text>
<text x="1382.0" y="1112.7" font-family="Liberation Serif, Times New Roman, serif" font-size="82" fill="#000">(b)</text>
<text x="1526.2" y="1111.2" font-style="italic" font-family="Noto Serif CJK SC, Noto Serif CJK JP, Liberation Serif, serif" font-size="77" fill="#000">&#916;</text>
<text x="1597.8" y="1113" font-family="Liberation Serif, Times New Roman, serif" font-size="83.5" fill="#000" textLength="62.9" lengthAdjust="spacingAndGlyphs">H</text>
<text x="1659.2" y="1112.7" font-family="Liberation Serif, Times New Roman, serif" font-size="82" fill="#000" textLength="54.5" lengthAdjust="spacingAndGlyphs">=</text>
<text x="1709.1" y="1112.7" font-family="Liberation Serif, Times New Roman, serif" font-size="82" fill="#000">1.808m</text>
<text x="2558.0" y="1112.7" font-family="Liberation Serif, Times New Roman, serif" font-size="82" fill="#000">(c)</text>
<text x="2658.9" y="1111.2" font-style="italic" font-family="Noto Serif CJK SC, Noto Serif CJK JP, Liberation Serif, serif" font-size="77" fill="#000">&#916;</text>
<text x="2730.5" y="1113" font-family="Liberation Serif, Times New Roman, serif" font-size="83.5" fill="#000" textLength="62.9" lengthAdjust="spacingAndGlyphs">H</text>
<text x="2789.4" y="1112.7" font-family="Liberation Serif, Times New Roman, serif" font-size="82" fill="#000" textLength="54.5" lengthAdjust="spacingAndGlyphs">=</text>
<text x="2837.7" y="1112.7" font-family="Liberation Serif, Times New Roman, serif" font-size="82" fill="#000">3.616m</text>
</g>
</svg></body></html>
